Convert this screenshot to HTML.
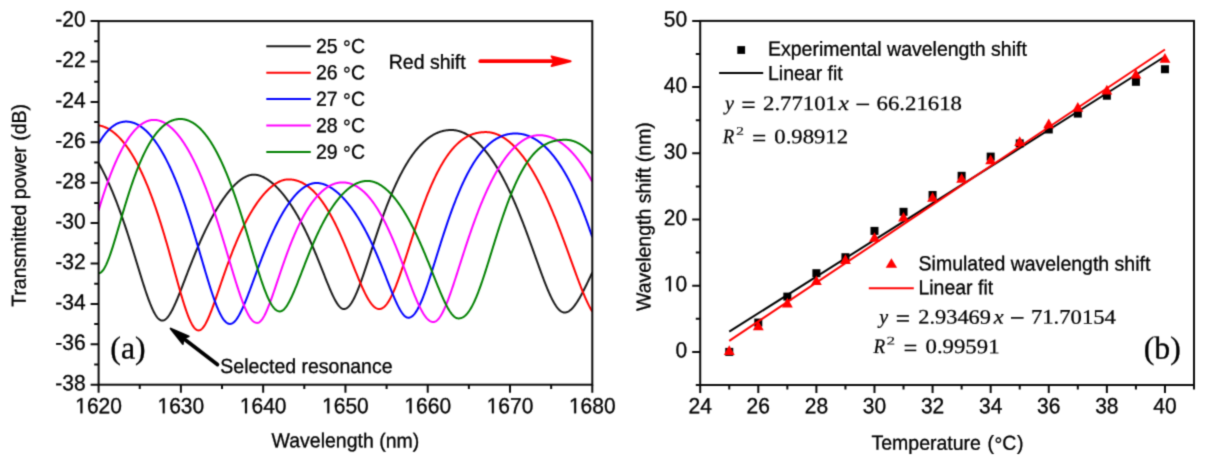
<!DOCTYPE html>
<html><head><meta charset="utf-8"><style>
html,body{margin:0;padding:0;background:#fff;}
body{width:1207px;height:462px;overflow:hidden;font-family:"Liberation Sans",sans-serif;}
svg{display:block;}
</style></head><body>
<svg width="1207" height="462" viewBox="0 0 1207 462">
<filter id="soft" filterUnits="userSpaceOnUse" x="0" y="0" width="1207" height="462" color-interpolation-filters="sRGB"><feConvolveMatrix order="5" kernelMatrix="0.00001 0.00042 0.00170 0.00042 0.00001 0.00042 0.02740 0.10988 0.02740 0.00042 0.00170 0.10988 0.44065 0.10988 0.00170 0.00042 0.02740 0.10988 0.02740 0.00042 0.00001 0.00042 0.00170 0.00042 0.00001" edgeMode="duplicate"/></filter>
<g filter="url(#soft)">
<rect width="1207" height="462" fill="#fff"/>
<defs><clipPath id="cl"><rect x="98.6" y="21.1" width="493.7" height="363.6"/></clipPath></defs>
<g clip-path="url(#cl)" fill="none" stroke-width="2" stroke-linejoin="round">
<path d="M98.60 162.85 L99.10 163.75 L99.60 164.66 L100.10 165.58 L100.60 166.52 L101.10 167.46 L101.60 168.41 L102.10 169.38 L102.60 170.35 L103.10 171.34 L103.60 172.34 L104.10 173.34 L104.60 174.36 L105.10 175.39 L105.60 176.43 L106.10 177.48 L106.60 178.55 L107.10 179.62 L107.60 180.71 L108.10 181.80 L108.60 182.91 L109.10 184.03 L109.60 185.16 L110.10 186.30 L110.60 187.45 L111.10 188.62 L111.60 189.80 L112.10 190.98 L112.60 192.18 L113.10 193.39 L113.60 194.62 L114.10 195.85 L114.60 197.10 L115.10 198.35 L115.60 199.62 L116.10 200.90 L116.60 202.20 L117.10 203.50 L117.60 204.82 L118.10 206.14 L118.60 207.48 L119.10 208.83 L119.60 210.19 L120.10 211.57 L120.60 212.95 L121.10 214.35 L121.60 215.75 L122.10 217.17 L122.60 218.60 L123.10 220.04 L123.60 221.49 L124.10 222.95 L124.60 224.42 L125.10 225.90 L125.60 227.39 L126.10 228.90 L126.60 230.41 L127.10 231.93 L127.60 233.46 L128.10 235.00 L128.60 236.55 L129.10 238.10 L129.60 239.67 L130.10 241.24 L130.60 242.82 L131.10 244.41 L131.60 246.01 L132.10 247.61 L132.60 249.21 L133.10 250.83 L133.60 252.44 L134.10 254.07 L134.60 255.69 L135.10 257.32 L135.60 258.96 L136.10 260.59 L136.60 262.23 L137.10 263.87 L137.60 265.50 L138.10 267.14 L138.60 268.77 L139.10 270.41 L139.60 272.04 L140.10 273.66 L140.60 275.28 L141.10 276.90 L141.60 278.50 L142.10 280.10 L142.60 281.69 L143.10 283.27 L143.60 284.84 L144.10 286.39 L144.60 287.93 L145.10 289.45 L145.60 290.96 L146.10 292.45 L146.60 293.91 L147.10 295.36 L147.60 296.78 L148.10 298.18 L148.60 299.55 L149.10 300.89 L149.60 302.21 L150.10 303.49 L150.60 304.74 L151.10 305.96 L151.60 307.13 L152.10 308.27 L152.60 309.37 L153.10 310.43 L153.60 311.45 L154.10 312.42 L154.60 313.34 L155.10 314.22 L155.60 315.04 L156.10 315.81 L156.60 316.54 L157.10 317.20 L157.60 317.81 L158.10 318.36 L158.60 318.86 L159.10 319.29 L159.60 319.67 L160.10 319.98 L160.60 320.23 L161.10 320.41 L161.60 320.54 L162.10 320.59 L162.60 320.59 L163.10 320.52 L163.60 320.39 L164.10 320.20 L164.60 319.94 L165.10 319.64 L165.60 319.27 L166.10 318.85 L166.60 318.38 L167.10 317.85 L167.60 317.28 L168.10 316.66 L168.60 315.99 L169.10 315.27 L169.60 314.52 L170.10 313.72 L170.60 312.89 L171.10 312.02 L171.60 311.11 L172.10 310.17 L172.60 309.20 L173.10 308.20 L173.60 307.17 L174.10 306.11 L174.60 305.03 L175.10 303.93 L175.60 302.80 L176.10 301.65 L176.60 300.49 L177.10 299.31 L177.60 298.11 L178.10 296.89 L178.60 295.67 L179.10 294.43 L179.60 293.18 L180.10 291.92 L180.60 290.66 L181.10 289.38 L181.60 288.10 L182.10 286.81 L182.60 285.52 L183.10 284.22 L183.60 282.93 L184.10 281.62 L184.60 280.32 L185.10 279.02 L185.60 277.72 L186.10 276.41 L186.60 275.11 L187.10 273.81 L187.60 272.51 L188.10 271.22 L188.60 269.93 L189.10 268.64 L189.60 267.35 L190.10 266.07 L190.60 264.80 L191.10 263.53 L191.60 262.27 L192.10 261.01 L192.60 259.75 L193.10 258.51 L193.60 257.27 L194.10 256.04 L194.60 254.81 L195.10 253.59 L195.60 252.38 L196.10 251.18 L196.60 249.98 L197.10 248.80 L197.60 247.62 L198.10 246.45 L198.60 245.28 L199.10 244.13 L199.60 242.98 L200.10 241.84 L200.60 240.71 L201.10 239.59 L201.60 238.48 L202.10 237.38 L202.60 236.28 L203.10 235.20 L203.60 234.12 L204.10 233.05 L204.60 231.99 L205.10 230.94 L205.60 229.90 L206.10 228.87 L206.60 227.85 L207.10 226.84 L207.60 225.83 L208.10 224.83 L208.60 223.85 L209.10 222.87 L209.60 221.90 L210.10 220.94 L210.60 219.99 L211.10 219.05 L211.60 218.12 L212.10 217.19 L212.60 216.28 L213.10 215.37 L213.60 214.48 L214.10 213.59 L214.60 212.71 L215.10 211.84 L215.60 210.98 L216.10 210.13 L216.60 209.29 L217.10 208.45 L217.60 207.63 L218.10 206.81 L218.60 206.01 L219.10 205.21 L219.60 204.42 L220.10 203.64 L220.60 202.87 L221.10 202.11 L221.60 201.36 L222.10 200.62 L222.60 199.88 L223.10 199.16 L223.60 198.44 L224.10 197.73 L224.60 197.04 L225.10 196.35 L225.60 195.67 L226.10 195.00 L226.60 194.34 L227.10 193.69 L227.60 193.05 L228.10 192.41 L228.60 191.79 L229.10 191.18 L229.60 190.57 L230.10 189.98 L230.60 189.39 L231.10 188.82 L231.60 188.25 L232.10 187.70 L232.60 187.15 L233.10 186.62 L233.60 186.09 L234.10 185.58 L234.60 185.07 L235.10 184.58 L235.60 184.10 L236.10 183.62 L236.60 183.16 L237.10 182.71 L237.60 182.27 L238.10 181.84 L238.60 181.42 L239.10 181.01 L239.60 180.61 L240.10 180.23 L240.60 179.85 L241.10 179.49 L241.60 179.14 L242.10 178.80 L242.60 178.48 L243.10 178.16 L243.60 177.86 L244.10 177.57 L244.60 177.30 L245.10 177.03 L245.60 176.78 L246.10 176.54 L246.60 176.32 L247.10 176.11 L247.60 175.91 L248.10 175.73 L248.60 175.56 L249.10 175.41 L249.60 175.27 L250.10 175.14 L250.60 175.03 L251.10 174.94 L251.60 174.86 L252.10 174.80 L252.60 174.75 L253.10 174.72 L253.60 174.70 L254.10 174.70 L254.60 174.72 L255.10 174.75 L255.60 174.79 L256.10 174.85 L256.60 174.92 L257.10 175.01 L257.60 175.10 L258.10 175.21 L258.60 175.34 L259.10 175.47 L259.60 175.62 L260.10 175.78 L260.60 175.96 L261.10 176.14 L261.60 176.34 L262.10 176.55 L262.60 176.77 L263.10 177.00 L263.60 177.24 L264.10 177.49 L264.60 177.76 L265.10 178.03 L265.60 178.32 L266.10 178.61 L266.60 178.92 L267.10 179.23 L267.60 179.56 L268.10 179.90 L268.60 180.24 L269.10 180.60 L269.60 180.97 L270.10 181.34 L270.60 181.73 L271.10 182.13 L271.60 182.53 L272.10 182.95 L272.60 183.37 L273.10 183.80 L273.60 184.24 L274.10 184.70 L274.60 185.16 L275.10 185.63 L275.60 186.10 L276.10 186.59 L276.60 187.09 L277.10 187.59 L277.60 188.11 L278.10 188.63 L278.60 189.16 L279.10 189.70 L279.60 190.25 L280.10 190.81 L280.60 191.38 L281.10 191.95 L281.60 192.54 L282.10 193.13 L282.60 193.73 L283.10 194.34 L283.60 194.96 L284.10 195.59 L284.60 196.22 L285.10 196.87 L285.60 197.52 L286.10 198.18 L286.60 198.86 L287.10 199.54 L287.60 200.22 L288.10 200.92 L288.60 201.63 L289.10 202.34 L289.60 203.07 L290.10 203.80 L290.60 204.54 L291.10 205.29 L291.60 206.05 L292.10 206.82 L292.60 207.59 L293.10 208.38 L293.60 209.18 L294.10 209.98 L294.60 210.79 L295.10 211.62 L295.60 212.45 L296.10 213.29 L296.60 214.14 L297.10 215.00 L297.60 215.87 L298.10 216.75 L298.60 217.64 L299.10 218.54 L299.60 219.44 L300.10 220.36 L300.60 221.29 L301.10 222.22 L301.60 223.17 L302.10 224.12 L302.60 225.09 L303.10 226.06 L303.60 227.05 L304.10 228.04 L304.60 229.04 L305.10 230.06 L305.60 231.08 L306.10 232.11 L306.60 233.16 L307.10 234.21 L307.60 235.27 L308.10 236.34 L308.60 237.42 L309.10 238.51 L309.60 239.61 L310.10 240.72 L310.60 241.84 L311.10 242.97 L311.60 244.10 L312.10 245.25 L312.60 246.40 L313.10 247.56 L313.60 248.74 L314.10 249.91 L314.60 251.10 L315.10 252.30 L315.60 253.50 L316.10 254.71 L316.60 255.93 L317.10 257.15 L317.60 258.38 L318.10 259.62 L318.60 260.86 L319.10 262.10 L319.60 263.35 L320.10 264.61 L320.60 265.87 L321.10 267.13 L321.60 268.40 L322.10 269.66 L322.60 270.93 L323.10 272.20 L323.60 273.47 L324.10 274.73 L324.60 276.00 L325.10 277.26 L325.60 278.52 L326.10 279.77 L326.60 281.02 L327.10 282.26 L327.60 283.50 L328.10 284.72 L328.60 285.93 L329.10 287.13 L329.60 288.32 L330.10 289.50 L330.60 290.65 L331.10 291.79 L331.60 292.91 L332.10 294.01 L332.60 295.08 L333.10 296.13 L333.60 297.16 L334.10 298.15 L334.60 299.12 L335.10 300.05 L335.60 300.95 L336.10 301.81 L336.60 302.64 L337.10 303.42 L337.60 304.16 L338.10 304.86 L338.60 305.51 L339.10 306.11 L339.60 306.66 L340.10 307.15 L340.60 307.60 L341.10 307.98 L341.60 308.31 L342.10 308.57 L342.60 308.78 L343.10 308.91 L343.60 308.99 L344.10 309.00 L344.60 308.95 L345.10 308.84 L345.60 308.68 L346.10 308.47 L346.60 308.20 L347.10 307.88 L347.60 307.50 L348.10 307.08 L348.60 306.60 L349.10 306.07 L349.60 305.49 L350.10 304.86 L350.60 304.19 L351.10 303.46 L351.60 302.70 L352.10 301.89 L352.60 301.03 L353.10 300.13 L353.60 299.20 L354.10 298.22 L354.60 297.21 L355.10 296.16 L355.60 295.07 L356.10 293.95 L356.60 292.80 L357.10 291.62 L357.60 290.41 L358.10 289.17 L358.60 287.91 L359.10 286.62 L359.60 285.30 L360.10 283.97 L360.60 282.61 L361.10 281.23 L361.60 279.84 L362.10 278.42 L362.60 277.00 L363.10 275.55 L363.60 274.10 L364.10 272.63 L364.60 271.15 L365.10 269.65 L365.60 268.15 L366.10 266.65 L366.60 265.13 L367.10 263.61 L367.60 262.08 L368.10 260.55 L368.60 259.02 L369.10 257.48 L369.60 255.94 L370.10 254.40 L370.60 252.86 L371.10 251.32 L371.60 249.78 L372.10 248.25 L372.60 246.71 L373.10 245.18 L373.60 243.65 L374.10 242.13 L374.60 240.61 L375.10 239.09 L375.60 237.58 L376.10 236.08 L376.60 234.58 L377.10 233.09 L377.60 231.61 L378.10 230.13 L378.60 228.66 L379.10 227.20 L379.60 225.75 L380.10 224.31 L380.60 222.87 L381.10 221.45 L381.60 220.03 L382.10 218.63 L382.60 217.23 L383.10 215.85 L383.60 214.47 L384.10 213.11 L384.60 211.75 L385.10 210.41 L385.60 209.08 L386.10 207.76 L386.60 206.45 L387.10 205.15 L387.60 203.86 L388.10 202.58 L388.60 201.32 L389.10 200.07 L389.60 198.83 L390.10 197.60 L390.60 196.38 L391.10 195.17 L391.60 193.98 L392.10 192.80 L392.60 191.63 L393.10 190.47 L393.60 189.33 L394.10 188.20 L394.60 187.08 L395.10 185.97 L395.60 184.87 L396.10 183.79 L396.60 182.71 L397.10 181.65 L397.60 180.61 L398.10 179.57 L398.60 178.55 L399.10 177.54 L399.60 176.54 L400.10 175.55 L400.60 174.57 L401.10 173.61 L401.60 172.66 L402.10 171.72 L402.60 170.79 L403.10 169.88 L403.60 168.97 L404.10 168.08 L404.60 167.20 L405.10 166.33 L405.60 165.48 L406.10 164.63 L406.60 163.80 L407.10 162.98 L407.60 162.17 L408.10 161.37 L408.60 160.58 L409.10 159.81 L409.60 159.04 L410.10 158.29 L410.60 157.55 L411.10 156.82 L411.60 156.10 L412.10 155.39 L412.60 154.69 L413.10 154.00 L413.60 153.33 L414.10 152.66 L414.60 152.01 L415.10 151.37 L415.60 150.74 L416.10 150.12 L416.60 149.50 L417.10 148.90 L417.60 148.31 L418.10 147.74 L418.60 147.17 L419.10 146.61 L419.60 146.06 L420.10 145.52 L420.60 145.00 L421.10 144.48 L421.60 143.97 L422.10 143.47 L422.60 142.99 L423.10 142.51 L423.60 142.04 L424.10 141.59 L424.60 141.14 L425.10 140.70 L425.60 140.27 L426.10 139.85 L426.60 139.44 L427.10 139.04 L427.60 138.65 L428.10 138.27 L428.60 137.90 L429.10 137.54 L429.60 137.19 L430.10 136.84 L430.60 136.51 L431.10 136.18 L431.60 135.86 L432.10 135.56 L432.60 135.26 L433.10 134.97 L433.60 134.69 L434.10 134.42 L434.60 134.15 L435.10 133.90 L435.60 133.65 L436.10 133.41 L436.60 133.18 L437.10 132.96 L437.60 132.75 L438.10 132.55 L438.60 132.35 L439.10 132.16 L439.60 131.98 L440.10 131.81 L440.60 131.65 L441.10 131.49 L441.60 131.35 L442.10 131.21 L442.60 131.08 L443.10 130.95 L443.60 130.84 L444.10 130.73 L444.60 130.63 L445.10 130.53 L445.60 130.45 L446.10 130.37 L446.60 130.30 L447.10 130.24 L447.60 130.18 L448.10 130.14 L448.60 130.10 L449.10 130.06 L449.60 130.04 L450.10 130.02 L450.60 130.01 L451.10 130.00 L451.60 130.00 L452.10 130.01 L452.60 130.04 L453.10 130.07 L453.60 130.11 L454.10 130.15 L454.60 130.21 L455.10 130.28 L455.60 130.35 L456.10 130.44 L456.60 130.53 L457.10 130.63 L457.60 130.75 L458.10 130.87 L458.60 130.99 L459.10 131.13 L459.60 131.28 L460.10 131.44 L460.60 131.60 L461.10 131.78 L461.60 131.96 L462.10 132.15 L462.60 132.35 L463.10 132.56 L463.60 132.78 L464.10 133.01 L464.60 133.24 L465.10 133.49 L465.60 133.74 L466.10 134.00 L466.60 134.27 L467.10 134.55 L467.60 134.84 L468.10 135.14 L468.60 135.45 L469.10 135.76 L469.60 136.09 L470.10 136.42 L470.60 136.76 L471.10 137.11 L471.60 137.47 L472.10 137.84 L472.60 138.22 L473.10 138.60 L473.60 139.00 L474.10 139.40 L474.60 139.81 L475.10 140.24 L475.60 140.67 L476.10 141.10 L476.60 141.55 L477.10 142.01 L477.60 142.48 L478.10 142.95 L478.60 143.43 L479.10 143.93 L479.60 144.43 L480.10 144.94 L480.60 145.46 L481.10 145.98 L481.60 146.52 L482.10 147.07 L482.60 147.62 L483.10 148.19 L483.60 148.76 L484.10 149.34 L484.60 149.93 L485.10 150.53 L485.60 151.14 L486.10 151.76 L486.60 152.39 L487.10 153.02 L487.60 153.67 L488.10 154.32 L488.60 154.99 L489.10 155.66 L489.60 156.34 L490.10 157.03 L490.60 157.73 L491.10 158.44 L491.60 159.16 L492.10 159.89 L492.60 160.63 L493.10 161.37 L493.60 162.13 L494.10 162.89 L494.60 163.67 L495.10 164.45 L495.60 165.24 L496.10 166.05 L496.60 166.86 L497.10 167.68 L497.60 168.51 L498.10 169.35 L498.60 170.20 L499.10 171.06 L499.60 171.93 L500.10 172.80 L500.60 173.69 L501.10 174.59 L501.60 175.49 L502.10 176.41 L502.60 177.33 L503.10 178.27 L503.60 179.21 L504.10 180.16 L504.60 181.13 L505.10 182.10 L505.60 183.08 L506.10 184.07 L506.60 185.07 L507.10 186.08 L507.60 187.10 L508.10 188.13 L508.60 189.17 L509.10 190.21 L509.60 191.27 L510.10 192.34 L510.60 193.41 L511.10 194.50 L511.60 195.59 L512.10 196.70 L512.60 197.81 L513.10 198.93 L513.60 200.06 L514.10 201.20 L514.60 202.35 L515.10 203.51 L515.60 204.68 L516.10 205.85 L516.60 207.04 L517.10 208.23 L517.60 209.43 L518.10 210.64 L518.60 211.86 L519.10 213.09 L519.60 214.33 L520.10 215.57 L520.60 216.82 L521.10 218.09 L521.60 219.35 L522.10 220.63 L522.60 221.91 L523.10 223.21 L523.60 224.50 L524.10 225.81 L524.60 227.12 L525.10 228.44 L525.60 229.77 L526.10 231.10 L526.60 232.44 L527.10 233.79 L527.60 235.14 L528.10 236.49 L528.60 237.85 L529.10 239.22 L529.60 240.59 L530.10 241.97 L530.60 243.35 L531.10 244.73 L531.60 246.12 L532.10 247.51 L532.60 248.90 L533.10 250.29 L533.60 251.69 L534.10 253.09 L534.60 254.49 L535.10 255.89 L535.60 257.29 L536.10 258.69 L536.60 260.08 L537.10 261.48 L537.60 262.88 L538.10 264.27 L538.60 265.66 L539.10 267.04 L539.60 268.42 L540.10 269.80 L540.60 271.17 L541.10 272.53 L541.60 273.89 L542.10 275.24 L542.60 276.58 L543.10 277.91 L543.60 279.23 L544.10 280.54 L544.60 281.83 L545.10 283.11 L545.60 284.38 L546.10 285.64 L546.60 286.88 L547.10 288.10 L547.60 289.30 L548.10 290.49 L548.60 291.66 L549.10 292.80 L549.60 293.92 L550.10 295.02 L550.60 296.10 L551.10 297.15 L551.60 298.18 L552.10 299.18 L552.60 300.15 L553.10 301.09 L553.60 302.00 L554.10 302.88 L554.60 303.73 L555.10 304.54 L555.60 305.32 L556.10 306.07 L556.60 306.78 L557.10 307.45 L557.60 308.08 L558.10 308.67 L558.60 309.23 L559.10 309.74 L559.60 310.21 L560.10 310.64 L560.60 311.03 L561.10 311.37 L561.60 311.67 L562.10 311.92 L562.60 312.13 L563.10 312.29 L563.60 312.41 L564.10 312.48 L564.60 312.50 L565.10 312.48 L565.60 312.43 L566.10 312.33 L566.60 312.20 L567.10 312.04 L567.60 311.83 L568.10 311.60 L568.60 311.32 L569.10 311.02 L569.60 310.68 L570.10 310.30 L570.60 309.90 L571.10 309.46 L571.60 308.99 L572.10 308.49 L572.60 307.96 L573.10 307.40 L573.60 306.81 L574.10 306.20 L574.60 305.56 L575.10 304.89 L575.60 304.20 L576.10 303.49 L576.60 302.75 L577.10 301.99 L577.60 301.21 L578.10 300.40 L578.60 299.58 L579.10 298.74 L579.60 297.88 L580.10 297.01 L580.60 296.12 L581.10 295.21 L581.60 294.29 L582.10 293.35 L582.60 292.40 L583.10 291.44 L583.60 290.47 L584.10 289.49 L584.60 288.50 L585.10 287.50 L585.60 286.49 L586.10 285.47 L586.60 284.45 L587.10 283.42 L587.60 282.38 L588.10 281.34 L588.60 280.29 L589.10 279.24 L589.60 278.19 L590.10 277.13 L590.60 276.08 L591.10 275.02 L591.60 273.95 L592.10 272.89 L592.30 272.47" stroke="#1a1a1a"/>
<path d="M98.60 125.30 L99.10 125.39 L99.60 125.50 L100.10 125.61 L100.60 125.73 L101.10 125.86 L101.60 126.00 L102.10 126.15 L102.60 126.31 L103.10 126.48 L103.60 126.66 L104.10 126.85 L104.60 127.06 L105.10 127.27 L105.60 127.49 L106.10 127.72 L106.60 127.96 L107.10 128.21 L107.60 128.47 L108.10 128.74 L108.60 129.02 L109.10 129.32 L109.60 129.62 L110.10 129.93 L110.60 130.26 L111.10 130.59 L111.60 130.93 L112.10 131.29 L112.60 131.65 L113.10 132.03 L113.60 132.42 L114.10 132.81 L114.60 133.22 L115.10 133.64 L115.60 134.07 L116.10 134.51 L116.60 134.96 L117.10 135.42 L117.60 135.90 L118.10 136.38 L118.60 136.87 L119.10 137.38 L119.60 137.90 L120.10 138.43 L120.60 138.97 L121.10 139.52 L121.60 140.08 L122.10 140.65 L122.60 141.24 L123.10 141.83 L123.60 142.44 L124.10 143.06 L124.60 143.69 L125.10 144.34 L125.60 144.99 L126.10 145.66 L126.60 146.34 L127.10 147.03 L127.60 147.73 L128.10 148.44 L128.60 149.17 L129.10 149.91 L129.60 150.66 L130.10 151.42 L130.60 152.19 L131.10 152.98 L131.60 153.78 L132.10 154.59 L132.60 155.41 L133.10 156.25 L133.60 157.10 L134.10 157.96 L134.60 158.84 L135.10 159.72 L135.60 160.62 L136.10 161.54 L136.60 162.46 L137.10 163.40 L137.60 164.35 L138.10 165.32 L138.60 166.30 L139.10 167.29 L139.60 168.29 L140.10 169.31 L140.60 170.34 L141.10 171.39 L141.60 172.45 L142.10 173.52 L142.60 174.60 L143.10 175.70 L143.60 176.81 L144.10 177.94 L144.60 179.08 L145.10 180.23 L145.60 181.40 L146.10 182.58 L146.60 183.78 L147.10 184.99 L147.60 186.21 L148.10 187.45 L148.60 188.70 L149.10 189.96 L149.60 191.24 L150.10 192.53 L150.60 193.84 L151.10 195.16 L151.60 196.50 L152.10 197.85 L152.60 199.21 L153.10 200.59 L153.60 201.98 L154.10 203.38 L154.60 204.80 L155.10 206.24 L155.60 207.68 L156.10 209.15 L156.60 210.62 L157.10 212.11 L157.60 213.61 L158.10 215.13 L158.60 216.66 L159.10 218.20 L159.60 219.76 L160.10 221.33 L160.60 222.91 L161.10 224.50 L161.60 226.11 L162.10 227.73 L162.60 229.36 L163.10 231.01 L163.60 232.67 L164.10 234.33 L164.60 236.01 L165.10 237.70 L165.60 239.41 L166.10 241.12 L166.60 242.84 L167.10 244.57 L167.60 246.31 L168.10 248.06 L168.60 249.82 L169.10 251.59 L169.60 253.36 L170.10 255.14 L170.60 256.93 L171.10 258.72 L171.60 260.52 L172.10 262.32 L172.60 264.12 L173.10 265.93 L173.60 267.74 L174.10 269.55 L174.60 271.36 L175.10 273.17 L175.60 274.98 L176.10 276.79 L176.60 278.59 L177.10 280.39 L177.60 282.18 L178.10 283.97 L178.60 285.75 L179.10 287.51 L179.60 289.27 L180.10 291.01 L180.60 292.74 L181.10 294.45 L181.60 296.15 L182.10 297.83 L182.60 299.48 L183.10 301.12 L183.60 302.73 L184.10 304.31 L184.60 305.87 L185.10 307.39 L185.60 308.89 L186.10 310.35 L186.60 311.77 L187.10 313.16 L187.60 314.51 L188.10 315.82 L188.60 317.08 L189.10 318.30 L189.60 319.47 L190.10 320.59 L190.60 321.66 L191.10 322.67 L191.60 323.63 L192.10 324.53 L192.60 325.38 L193.10 326.16 L193.60 326.88 L194.10 327.54 L194.60 328.13 L195.10 328.66 L195.60 329.12 L196.10 329.51 L196.60 329.83 L197.10 330.08 L197.60 330.26 L198.10 330.36 L198.60 330.40 L199.10 330.36 L199.60 330.25 L200.10 330.06 L200.60 329.80 L201.10 329.47 L201.60 329.08 L202.10 328.61 L202.60 328.08 L203.10 327.49 L203.60 326.84 L204.10 326.13 L204.60 325.36 L205.10 324.54 L205.60 323.67 L206.10 322.75 L206.60 321.79 L207.10 320.78 L207.60 319.73 L208.10 318.64 L208.60 317.51 L209.10 316.35 L209.60 315.15 L210.10 313.93 L210.60 312.68 L211.10 311.40 L211.60 310.10 L212.10 308.77 L212.60 307.43 L213.10 306.07 L213.60 304.69 L214.10 303.29 L214.60 301.89 L215.10 300.47 L215.60 299.04 L216.10 297.60 L216.60 296.15 L217.10 294.70 L217.60 293.25 L218.10 291.79 L218.60 290.32 L219.10 288.86 L219.60 287.39 L220.10 285.93 L220.60 284.46 L221.10 283.00 L221.60 281.54 L222.10 280.09 L222.60 278.64 L223.10 277.19 L223.60 275.75 L224.10 274.31 L224.60 272.89 L225.10 271.46 L225.60 270.05 L226.10 268.65 L226.60 267.25 L227.10 265.86 L227.60 264.48 L228.10 263.11 L228.60 261.75 L229.10 260.40 L229.60 259.06 L230.10 257.73 L230.60 256.41 L231.10 255.10 L231.60 253.80 L232.10 252.51 L232.60 251.24 L233.10 249.97 L233.60 248.72 L234.10 247.48 L234.60 246.25 L235.10 245.03 L235.60 243.82 L236.10 242.63 L236.60 241.45 L237.10 240.27 L237.60 239.11 L238.10 237.97 L238.60 236.83 L239.10 235.71 L239.60 234.59 L240.10 233.49 L240.60 232.41 L241.10 231.33 L241.60 230.26 L242.10 229.21 L242.60 228.17 L243.10 227.14 L243.60 226.12 L244.10 225.12 L244.60 224.12 L245.10 223.14 L245.60 222.17 L246.10 221.21 L246.60 220.26 L247.10 219.32 L247.60 218.40 L248.10 217.48 L248.60 216.58 L249.10 215.69 L249.60 214.80 L250.10 213.93 L250.60 213.08 L251.10 212.23 L251.60 211.39 L252.10 210.57 L252.60 209.75 L253.10 208.95 L253.60 208.15 L254.10 207.37 L254.60 206.60 L255.10 205.84 L255.60 205.09 L256.10 204.35 L256.60 203.62 L257.10 202.90 L257.60 202.20 L258.10 201.50 L258.60 200.81 L259.10 200.14 L259.60 199.47 L260.10 198.82 L260.60 198.17 L261.10 197.54 L261.60 196.91 L262.10 196.30 L262.60 195.70 L263.10 195.11 L263.60 194.52 L264.10 193.95 L264.60 193.39 L265.10 192.84 L265.60 192.30 L266.10 191.77 L266.60 191.25 L267.10 190.74 L267.60 190.24 L268.10 189.75 L268.60 189.28 L269.10 188.81 L269.60 188.35 L270.10 187.91 L270.60 187.47 L271.10 187.04 L271.60 186.63 L272.10 186.23 L272.60 185.83 L273.10 185.45 L273.60 185.08 L274.10 184.72 L274.60 184.37 L275.10 184.03 L275.60 183.71 L276.10 183.39 L276.60 183.09 L277.10 182.79 L277.60 182.51 L278.10 182.24 L278.60 181.98 L279.10 181.74 L279.60 181.50 L280.10 181.28 L280.60 181.07 L281.10 180.87 L281.60 180.68 L282.10 180.50 L282.60 180.34 L283.10 180.19 L283.60 180.05 L284.10 179.93 L284.60 179.82 L285.10 179.72 L285.60 179.63 L286.10 179.56 L286.60 179.50 L287.10 179.45 L287.60 179.42 L288.10 179.40 L288.60 179.40 L289.10 179.41 L289.60 179.42 L290.10 179.44 L290.60 179.48 L291.10 179.52 L291.60 179.56 L292.10 179.62 L292.60 179.69 L293.10 179.76 L293.60 179.85 L294.10 179.94 L294.60 180.05 L295.10 180.16 L295.60 180.28 L296.10 180.41 L296.60 180.55 L297.10 180.70 L297.60 180.86 L298.10 181.03 L298.60 181.20 L299.10 181.39 L299.60 181.59 L300.10 181.80 L300.60 182.01 L301.10 182.24 L301.60 182.48 L302.10 182.72 L302.60 182.98 L303.10 183.25 L303.60 183.52 L304.10 183.81 L304.60 184.11 L305.10 184.42 L305.60 184.74 L306.10 185.07 L306.60 185.41 L307.10 185.76 L307.60 186.12 L308.10 186.49 L308.60 186.87 L309.10 187.27 L309.60 187.67 L310.10 188.08 L310.60 188.51 L311.10 188.95 L311.60 189.40 L312.10 189.86 L312.60 190.33 L313.10 190.81 L313.60 191.30 L314.10 191.80 L314.60 192.32 L315.10 192.85 L315.60 193.39 L316.10 193.94 L316.60 194.50 L317.10 195.07 L317.60 195.65 L318.10 196.25 L318.60 196.86 L319.10 197.48 L319.60 198.11 L320.10 198.75 L320.60 199.41 L321.10 200.07 L321.60 200.75 L322.10 201.44 L322.60 202.15 L323.10 202.86 L323.60 203.59 L324.10 204.32 L324.60 205.07 L325.10 205.83 L325.60 206.61 L326.10 207.39 L326.60 208.19 L327.10 209.00 L327.60 209.82 L328.10 210.65 L328.60 211.50 L329.10 212.36 L329.60 213.23 L330.10 214.11 L330.60 215.00 L331.10 215.90 L331.60 216.82 L332.10 217.75 L332.60 218.68 L333.10 219.63 L333.60 220.60 L334.10 221.57 L334.60 222.55 L335.10 223.55 L335.60 224.56 L336.10 225.57 L336.60 226.60 L337.10 227.64 L337.60 228.69 L338.10 229.75 L338.60 230.82 L339.10 231.90 L339.60 232.99 L340.10 234.09 L340.60 235.20 L341.10 236.32 L341.60 237.45 L342.10 238.59 L342.60 239.74 L343.10 240.89 L343.60 242.06 L344.10 243.23 L344.60 244.41 L345.10 245.59 L345.60 246.79 L346.10 247.99 L346.60 249.20 L347.10 250.41 L347.60 251.63 L348.10 252.85 L348.60 254.08 L349.10 255.31 L349.60 256.55 L350.10 257.79 L350.60 259.04 L351.10 260.28 L351.60 261.53 L352.10 262.78 L352.60 264.03 L353.10 265.28 L353.60 266.53 L354.10 267.78 L354.60 269.02 L355.10 270.27 L355.60 271.51 L356.10 272.75 L356.60 273.98 L357.10 275.21 L357.60 276.43 L358.10 277.64 L358.60 278.84 L359.10 280.04 L359.60 281.23 L360.10 282.40 L360.60 283.57 L361.10 284.72 L361.60 285.85 L362.10 286.98 L362.60 288.08 L363.10 289.17 L363.60 290.25 L364.10 291.30 L364.60 292.33 L365.10 293.35 L365.60 294.34 L366.10 295.30 L366.60 296.25 L367.10 297.16 L367.60 298.05 L368.10 298.92 L368.60 299.75 L369.10 300.56 L369.60 301.33 L370.10 302.07 L370.60 302.78 L371.10 303.46 L371.60 304.10 L372.10 304.70 L372.60 305.27 L373.10 305.80 L373.60 306.30 L374.10 306.75 L374.60 307.16 L375.10 307.54 L375.60 307.87 L376.10 308.16 L376.60 308.41 L377.10 308.61 L377.60 308.77 L378.10 308.89 L378.60 308.97 L379.10 309.00 L379.60 308.99 L380.10 308.93 L380.60 308.83 L381.10 308.69 L381.60 308.51 L382.10 308.28 L382.60 308.00 L383.10 307.69 L383.60 307.33 L384.10 306.92 L384.60 306.47 L385.10 305.98 L385.60 305.45 L386.10 304.88 L386.60 304.26 L387.10 303.60 L387.60 302.90 L388.10 302.16 L388.60 301.38 L389.10 300.56 L389.60 299.70 L390.10 298.81 L390.60 297.88 L391.10 296.91 L391.60 295.91 L392.10 294.88 L392.60 293.81 L393.10 292.71 L393.60 291.58 L394.10 290.43 L394.60 289.24 L395.10 288.02 L395.60 286.78 L396.10 285.52 L396.60 284.23 L397.10 282.92 L397.60 281.58 L398.10 280.23 L398.60 278.85 L399.10 277.46 L399.60 276.05 L400.10 274.62 L400.60 273.18 L401.10 271.73 L401.60 270.26 L402.10 268.77 L402.60 267.28 L403.10 265.78 L403.60 264.27 L404.10 262.75 L404.60 261.22 L405.10 259.69 L405.60 258.15 L406.10 256.60 L406.60 255.06 L407.10 253.51 L407.60 251.95 L408.10 250.40 L408.60 248.84 L409.10 247.29 L409.60 245.73 L410.10 244.18 L410.60 242.63 L411.10 241.08 L411.60 239.53 L412.10 237.99 L412.60 236.45 L413.10 234.92 L413.60 233.39 L414.10 231.87 L414.60 230.35 L415.10 228.84 L415.60 227.34 L416.10 225.84 L416.60 224.35 L417.10 222.88 L417.60 221.40 L418.10 219.94 L418.60 218.49 L419.10 217.05 L419.60 215.61 L420.10 214.19 L420.60 212.78 L421.10 211.38 L421.60 209.99 L422.10 208.61 L422.60 207.24 L423.10 205.88 L423.60 204.53 L424.10 203.20 L424.60 201.88 L425.10 200.57 L425.60 199.27 L426.10 197.99 L426.60 196.72 L427.10 195.46 L427.60 194.21 L428.10 192.98 L428.60 191.76 L429.10 190.55 L429.60 189.35 L430.10 188.17 L430.60 187.01 L431.10 185.85 L431.60 184.71 L432.10 183.58 L432.60 182.47 L433.10 181.37 L433.60 180.28 L434.10 179.21 L434.60 178.15 L435.10 177.10 L435.60 176.07 L436.10 175.05 L436.60 174.04 L437.10 173.05 L437.60 172.07 L438.10 171.11 L438.60 170.16 L439.10 169.22 L439.60 168.30 L440.10 167.39 L440.60 166.49 L441.10 165.61 L441.60 164.74 L442.10 163.88 L442.60 163.04 L443.10 162.20 L443.60 161.39 L444.10 160.58 L444.60 159.79 L445.10 159.02 L445.60 158.25 L446.10 157.50 L446.60 156.76 L447.10 156.04 L447.60 155.32 L448.10 154.62 L448.60 153.94 L449.10 153.26 L449.60 152.60 L450.10 151.95 L450.60 151.31 L451.10 150.69 L451.60 150.07 L452.10 149.47 L452.60 148.88 L453.10 148.31 L453.60 147.74 L454.10 147.19 L454.60 146.65 L455.10 146.12 L455.60 145.60 L456.10 145.09 L456.60 144.60 L457.10 144.12 L457.60 143.64 L458.10 143.18 L458.60 142.73 L459.10 142.29 L459.60 141.87 L460.10 141.45 L460.60 141.04 L461.10 140.65 L461.60 140.26 L462.10 139.89 L462.60 139.52 L463.10 139.17 L463.60 138.82 L464.10 138.49 L464.60 138.16 L465.10 137.85 L465.60 137.54 L466.10 137.25 L466.60 136.96 L467.10 136.69 L467.60 136.42 L468.10 136.16 L468.60 135.91 L469.10 135.67 L469.60 135.44 L470.10 135.22 L470.60 135.01 L471.10 134.80 L471.60 134.61 L472.10 134.42 L472.60 134.24 L473.10 134.07 L473.60 133.91 L474.10 133.75 L474.60 133.60 L475.10 133.46 L475.60 133.33 L476.10 133.20 L476.60 133.09 L477.10 132.98 L477.60 132.87 L478.10 132.78 L478.60 132.69 L479.10 132.61 L479.60 132.53 L480.10 132.46 L480.60 132.40 L481.10 132.34 L481.60 132.29 L482.10 132.25 L482.60 132.21 L483.10 132.18 L483.60 132.15 L484.10 132.13 L484.60 132.11 L485.10 132.11 L485.60 132.10 L486.10 132.10 L486.60 132.11 L487.10 132.13 L487.60 132.16 L488.10 132.19 L488.60 132.24 L489.10 132.29 L489.60 132.36 L490.10 132.43 L490.60 132.51 L491.10 132.60 L491.60 132.70 L492.10 132.80 L492.60 132.92 L493.10 133.04 L493.60 133.18 L494.10 133.32 L494.60 133.47 L495.10 133.63 L495.60 133.80 L496.10 133.97 L496.60 134.16 L497.10 134.36 L497.60 134.56 L498.10 134.77 L498.60 134.99 L499.10 135.22 L499.60 135.46 L500.10 135.71 L500.60 135.97 L501.10 136.23 L501.60 136.51 L502.10 136.79 L502.60 137.08 L503.10 137.38 L503.60 137.69 L504.10 138.01 L504.60 138.34 L505.10 138.67 L505.60 139.02 L506.10 139.37 L506.60 139.74 L507.10 140.11 L507.60 140.49 L508.10 140.88 L508.60 141.28 L509.10 141.68 L509.60 142.10 L510.10 142.52 L510.60 142.96 L511.10 143.40 L511.60 143.85 L512.10 144.31 L512.60 144.78 L513.10 145.26 L513.60 145.75 L514.10 146.24 L514.60 146.75 L515.10 147.26 L515.60 147.79 L516.10 148.32 L516.60 148.86 L517.10 149.41 L517.60 149.97 L518.10 150.54 L518.60 151.12 L519.10 151.70 L519.60 152.30 L520.10 152.90 L520.60 153.52 L521.10 154.14 L521.60 154.77 L522.10 155.41 L522.60 156.06 L523.10 156.72 L523.60 157.39 L524.10 158.07 L524.60 158.76 L525.10 159.45 L525.60 160.16 L526.10 160.87 L526.60 161.60 L527.10 162.33 L527.60 163.07 L528.10 163.82 L528.60 164.58 L529.10 165.35 L529.60 166.13 L530.10 166.92 L530.60 167.72 L531.10 168.52 L531.60 169.34 L532.10 170.16 L532.60 171.00 L533.10 171.84 L533.60 172.70 L534.10 173.56 L534.60 174.43 L535.10 175.31 L535.60 176.20 L536.10 177.10 L536.60 178.01 L537.10 178.93 L537.60 179.85 L538.10 180.79 L538.60 181.73 L539.10 182.69 L539.60 183.65 L540.10 184.63 L540.60 185.61 L541.10 186.60 L541.60 187.60 L542.10 188.61 L542.60 189.63 L543.10 190.66 L543.60 191.70 L544.10 192.74 L544.60 193.80 L545.10 194.86 L545.60 195.93 L546.10 197.02 L546.60 198.11 L547.10 199.21 L547.60 200.32 L548.10 201.43 L548.60 202.56 L549.10 203.70 L549.60 204.84 L550.10 205.99 L550.60 207.15 L551.10 208.32 L551.60 209.50 L552.10 210.68 L552.60 211.88 L553.10 213.08 L553.60 214.29 L554.10 215.51 L554.60 216.73 L555.10 217.97 L555.60 219.21 L556.10 220.46 L556.60 221.71 L557.10 222.98 L557.60 224.25 L558.10 225.52 L558.60 226.81 L559.10 228.10 L559.60 229.40 L560.10 230.70 L560.60 232.01 L561.10 233.33 L561.60 234.65 L562.10 235.98 L562.60 237.31 L563.10 238.65 L563.60 239.99 L564.10 241.34 L564.60 242.69 L565.10 244.05 L565.60 245.41 L566.10 246.77 L566.60 248.14 L567.10 249.51 L567.60 250.89 L568.10 252.26 L568.60 253.64 L569.10 255.02 L569.60 256.41 L570.10 257.79 L570.60 259.17 L571.10 260.56 L571.60 261.94 L572.10 263.32 L572.60 264.70 L573.10 266.08 L573.60 267.46 L574.10 268.84 L574.60 270.21 L575.10 271.58 L575.60 272.95 L576.10 274.31 L576.60 275.66 L577.10 277.01 L577.60 278.36 L578.10 279.69 L578.60 281.02 L579.10 282.34 L579.60 283.65 L580.10 284.96 L580.60 286.25 L581.10 287.53 L581.60 288.80 L582.10 290.05 L582.60 291.30 L583.10 292.52 L583.60 293.74 L584.10 294.94 L584.60 296.12 L585.10 297.28 L585.60 298.43 L586.10 299.56 L586.60 300.67 L587.10 301.75 L587.60 302.82 L588.10 303.86 L588.60 304.88 L589.10 305.88 L589.60 306.85 L590.10 307.80 L590.60 308.72 L591.10 309.61 L591.60 310.48 L592.10 311.31 L592.30 311.64" stroke="#ff0000"/>
<path d="M98.60 143.75 L99.10 142.87 L99.60 142.02 L100.10 141.18 L100.60 140.37 L101.10 139.58 L101.60 138.80 L102.10 138.05 L102.60 137.31 L103.10 136.60 L103.60 135.90 L104.10 135.23 L104.60 134.57 L105.10 133.93 L105.60 133.31 L106.10 132.71 L106.60 132.12 L107.10 131.56 L107.60 131.01 L108.10 130.47 L108.60 129.96 L109.10 129.46 L109.60 128.98 L110.10 128.52 L110.60 128.07 L111.10 127.64 L111.60 127.22 L112.10 126.82 L112.60 126.44 L113.10 126.08 L113.60 125.72 L114.10 125.39 L114.60 125.07 L115.10 124.76 L115.60 124.47 L116.10 124.20 L116.60 123.94 L117.10 123.69 L117.60 123.46 L118.10 123.24 L118.60 123.04 L119.10 122.85 L119.60 122.67 L120.10 122.51 L120.60 122.36 L121.10 122.23 L121.60 122.11 L122.10 122.00 L122.60 121.90 L123.10 121.82 L123.60 121.75 L124.10 121.70 L124.60 121.66 L125.10 121.62 L125.60 121.61 L126.10 121.60 L126.60 121.61 L127.10 121.62 L127.60 121.65 L128.10 121.69 L128.60 121.74 L129.10 121.80 L129.60 121.88 L130.10 121.96 L130.60 122.06 L131.10 122.17 L131.60 122.28 L132.10 122.41 L132.60 122.56 L133.10 122.71 L133.60 122.87 L134.10 123.05 L134.60 123.24 L135.10 123.44 L135.60 123.65 L136.10 123.87 L136.60 124.11 L137.10 124.35 L137.60 124.61 L138.10 124.88 L138.60 125.16 L139.10 125.45 L139.60 125.76 L140.10 126.07 L140.60 126.40 L141.10 126.74 L141.60 127.09 L142.10 127.46 L142.60 127.83 L143.10 128.22 L143.60 128.62 L144.10 129.03 L144.60 129.45 L145.10 129.89 L145.60 130.34 L146.10 130.80 L146.60 131.27 L147.10 131.75 L147.60 132.25 L148.10 132.75 L148.60 133.27 L149.10 133.81 L149.60 134.35 L150.10 134.91 L150.60 135.48 L151.10 136.06 L151.60 136.65 L152.10 137.26 L152.60 137.88 L153.10 138.51 L153.60 139.15 L154.10 139.81 L154.60 140.47 L155.10 141.16 L155.60 141.85 L156.10 142.56 L156.60 143.27 L157.10 144.01 L157.60 144.75 L158.10 145.51 L158.60 146.28 L159.10 147.06 L159.60 147.85 L160.10 148.66 L160.60 149.48 L161.10 150.31 L161.60 151.16 L162.10 152.02 L162.60 152.89 L163.10 153.78 L163.60 154.68 L164.10 155.59 L164.60 156.51 L165.10 157.45 L165.60 158.40 L166.10 159.36 L166.60 160.34 L167.10 161.33 L167.60 162.33 L168.10 163.34 L168.60 164.37 L169.10 165.41 L169.60 166.47 L170.10 167.54 L170.60 168.62 L171.10 169.71 L171.60 170.82 L172.10 171.94 L172.60 173.08 L173.10 174.22 L173.60 175.38 L174.10 176.56 L174.60 177.74 L175.10 178.94 L175.60 180.15 L176.10 181.38 L176.60 182.62 L177.10 183.87 L177.60 185.14 L178.10 186.41 L178.60 187.70 L179.10 189.01 L179.60 190.32 L180.10 191.65 L180.60 193.00 L181.10 194.35 L181.60 195.72 L182.10 197.10 L182.60 198.49 L183.10 199.89 L183.60 201.31 L184.10 202.74 L184.60 204.18 L185.10 205.63 L185.60 207.10 L186.10 208.57 L186.60 210.06 L187.10 211.56 L187.60 213.07 L188.10 214.59 L188.60 216.12 L189.10 217.67 L189.60 219.22 L190.10 220.78 L190.60 222.36 L191.10 223.94 L191.60 225.53 L192.10 227.13 L192.60 228.74 L193.10 230.36 L193.60 231.99 L194.10 233.63 L194.60 235.27 L195.10 236.92 L195.60 238.58 L196.10 240.25 L196.60 241.92 L197.10 243.59 L197.60 245.27 L198.10 246.96 L198.60 248.65 L199.10 250.34 L199.60 252.04 L200.10 253.74 L200.60 255.44 L201.10 257.14 L201.60 258.85 L202.10 260.55 L202.60 262.25 L203.10 263.95 L203.60 265.65 L204.10 267.35 L204.60 269.04 L205.10 270.72 L205.60 272.41 L206.10 274.08 L206.60 275.75 L207.10 277.40 L207.60 279.05 L208.10 280.69 L208.60 282.32 L209.10 283.93 L209.60 285.53 L210.10 287.11 L210.60 288.68 L211.10 290.23 L211.60 291.77 L212.10 293.28 L212.60 294.77 L213.10 296.24 L213.60 297.68 L214.10 299.10 L214.60 300.49 L215.10 301.86 L215.60 303.20 L216.10 304.50 L216.60 305.77 L217.10 307.02 L217.60 308.22 L218.10 309.39 L218.60 310.53 L219.10 311.62 L219.60 312.67 L220.10 313.69 L220.60 314.66 L221.10 315.59 L221.60 316.47 L222.10 317.31 L222.60 318.10 L223.10 318.85 L223.60 319.54 L224.10 320.19 L224.60 320.79 L225.10 321.33 L225.60 321.83 L226.10 322.27 L226.60 322.66 L227.10 323.00 L227.60 323.28 L228.10 323.51 L228.60 323.69 L229.10 323.81 L229.60 323.88 L230.10 323.90 L230.60 323.86 L231.10 323.76 L231.60 323.60 L232.10 323.39 L232.60 323.12 L233.10 322.79 L233.60 322.42 L234.10 321.99 L234.60 321.51 L235.10 320.98 L235.60 320.40 L236.10 319.77 L236.60 319.10 L237.10 318.39 L237.60 317.63 L238.10 316.83 L238.60 316.00 L239.10 315.12 L239.60 314.21 L240.10 313.27 L240.60 312.29 L241.10 311.29 L241.60 310.25 L242.10 309.18 L242.60 308.09 L243.10 306.97 L243.60 305.83 L244.10 304.67 L244.60 303.49 L245.10 302.28 L245.60 301.06 L246.10 299.83 L246.60 298.57 L247.10 297.31 L247.60 296.03 L248.10 294.74 L248.60 293.44 L249.10 292.12 L249.60 290.81 L250.10 289.48 L250.60 288.15 L251.10 286.81 L251.60 285.47 L252.10 284.12 L252.60 282.77 L253.10 281.42 L253.60 280.07 L254.10 278.71 L254.60 277.36 L255.10 276.01 L255.60 274.66 L256.10 273.31 L256.60 271.97 L257.10 270.62 L257.60 269.29 L258.10 267.95 L258.60 266.62 L259.10 265.30 L259.60 263.98 L260.10 262.67 L260.60 261.36 L261.10 260.06 L261.60 258.76 L262.10 257.48 L262.60 256.20 L263.10 254.93 L263.60 253.67 L264.10 252.41 L264.60 251.17 L265.10 249.93 L265.60 248.70 L266.10 247.49 L266.60 246.28 L267.10 245.08 L267.60 243.89 L268.10 242.71 L268.60 241.54 L269.10 240.38 L269.60 239.23 L270.10 238.09 L270.60 236.96 L271.10 235.84 L271.60 234.74 L272.10 233.64 L272.60 232.55 L273.10 231.48 L273.60 230.41 L274.10 229.36 L274.60 228.32 L275.10 227.29 L275.60 226.27 L276.10 225.26 L276.60 224.26 L277.10 223.27 L277.60 222.30 L278.10 221.34 L278.60 220.38 L279.10 219.44 L279.60 218.51 L280.10 217.60 L280.60 216.69 L281.10 215.79 L281.60 214.91 L282.10 214.04 L282.60 213.18 L283.10 212.33 L283.60 211.49 L284.10 210.66 L284.60 209.85 L285.10 209.05 L285.60 208.26 L286.10 207.48 L286.60 206.71 L287.10 205.95 L287.60 205.21 L288.10 204.47 L288.60 203.75 L289.10 203.04 L289.60 202.34 L290.10 201.66 L290.60 200.98 L291.10 200.32 L291.60 199.67 L292.10 199.03 L292.60 198.40 L293.10 197.79 L293.60 197.18 L294.10 196.59 L294.60 196.01 L295.10 195.44 L295.60 194.89 L296.10 194.34 L296.60 193.81 L297.10 193.29 L297.60 192.78 L298.10 192.29 L298.60 191.80 L299.10 191.33 L299.60 190.87 L300.10 190.43 L300.60 189.99 L301.10 189.57 L301.60 189.16 L302.10 188.76 L302.60 188.38 L303.10 188.01 L303.60 187.65 L304.10 187.30 L304.60 186.97 L305.10 186.65 L305.60 186.34 L306.10 186.04 L306.60 185.76 L307.10 185.49 L307.60 185.24 L308.10 185.00 L308.60 184.77 L309.10 184.55 L309.60 184.35 L310.10 184.16 L310.60 183.99 L311.10 183.83 L311.60 183.68 L312.10 183.55 L312.60 183.43 L313.10 183.32 L313.60 183.23 L314.10 183.16 L314.60 183.10 L315.10 183.05 L315.60 183.02 L316.10 183.00 L316.60 183.00 L317.10 183.01 L317.60 183.04 L318.10 183.07 L318.60 183.12 L319.10 183.18 L319.60 183.25 L320.10 183.33 L320.60 183.42 L321.10 183.53 L321.60 183.64 L322.10 183.77 L322.60 183.91 L323.10 184.05 L323.60 184.21 L324.10 184.38 L324.60 184.56 L325.10 184.75 L325.60 184.95 L326.10 185.16 L326.60 185.38 L327.10 185.61 L327.60 185.85 L328.10 186.10 L328.60 186.36 L329.10 186.63 L329.60 186.91 L330.10 187.20 L330.60 187.50 L331.10 187.81 L331.60 188.13 L332.10 188.45 L332.60 188.79 L333.10 189.13 L333.60 189.49 L334.10 189.85 L334.60 190.22 L335.10 190.61 L335.60 191.00 L336.10 191.40 L336.60 191.80 L337.10 192.22 L337.60 192.65 L338.10 193.08 L338.60 193.53 L339.10 193.98 L339.60 194.44 L340.10 194.91 L340.60 195.39 L341.10 195.88 L341.60 196.38 L342.10 196.88 L342.60 197.40 L343.10 197.92 L343.60 198.45 L344.10 199.00 L344.60 199.54 L345.10 200.10 L345.60 200.67 L346.10 201.25 L346.60 201.83 L347.10 202.43 L347.60 203.03 L348.10 203.64 L348.60 204.26 L349.10 204.89 L349.60 205.53 L350.10 206.18 L350.60 206.83 L351.10 207.50 L351.60 208.17 L352.10 208.86 L352.60 209.55 L353.10 210.25 L353.60 210.96 L354.10 211.69 L354.60 212.42 L355.10 213.15 L355.60 213.90 L356.10 214.66 L356.60 215.43 L357.10 216.21 L357.60 216.99 L358.10 217.79 L358.60 218.59 L359.10 219.41 L359.60 220.23 L360.10 221.07 L360.60 221.91 L361.10 222.77 L361.60 223.63 L362.10 224.50 L362.60 225.39 L363.10 226.28 L363.60 227.18 L364.10 228.10 L364.60 229.02 L365.10 229.95 L365.60 230.90 L366.10 231.85 L366.60 232.81 L367.10 233.79 L367.60 234.77 L368.10 235.76 L368.60 236.77 L369.10 237.78 L369.60 238.80 L370.10 239.84 L370.60 240.88 L371.10 241.93 L371.60 243.00 L372.10 244.07 L372.60 245.15 L373.10 246.25 L373.60 247.35 L374.10 248.46 L374.60 249.58 L375.10 250.71 L375.60 251.85 L376.10 253.00 L376.60 254.16 L377.10 255.33 L377.60 256.50 L378.10 257.69 L378.60 258.88 L379.10 260.08 L379.60 261.28 L380.10 262.50 L380.60 263.72 L381.10 264.95 L381.60 266.18 L382.10 267.42 L382.60 268.67 L383.10 269.92 L383.60 271.17 L384.10 272.43 L384.60 273.70 L385.10 274.96 L385.60 276.23 L386.10 277.50 L386.60 278.77 L387.10 280.05 L387.60 281.32 L388.10 282.59 L388.60 283.86 L389.10 285.13 L389.60 286.39 L390.10 287.65 L390.60 288.90 L391.10 290.14 L391.60 291.38 L392.10 292.61 L392.60 293.83 L393.10 295.04 L393.60 296.23 L394.10 297.41 L394.60 298.57 L395.10 299.72 L395.60 300.84 L396.10 301.95 L396.60 303.04 L397.10 304.10 L397.60 305.13 L398.10 306.14 L398.60 307.12 L399.10 308.07 L399.60 308.99 L400.10 309.87 L400.60 310.71 L401.10 311.52 L401.60 312.28 L402.10 313.01 L402.60 313.68 L403.10 314.32 L403.60 314.90 L404.10 315.43 L404.60 315.92 L405.10 316.34 L405.60 316.72 L406.10 317.03 L406.60 317.29 L407.10 317.48 L407.60 317.62 L408.10 317.69 L408.60 317.70 L409.10 317.65 L409.60 317.55 L410.10 317.40 L410.60 317.20 L411.10 316.95 L411.60 316.64 L412.10 316.29 L412.60 315.88 L413.10 315.43 L413.60 314.92 L414.10 314.37 L414.60 313.76 L415.10 313.11 L415.60 312.41 L416.10 311.67 L416.60 310.88 L417.10 310.05 L417.60 309.17 L418.10 308.25 L418.60 307.30 L419.10 306.30 L419.60 305.26 L420.10 304.19 L420.60 303.08 L421.10 301.94 L421.60 300.76 L422.10 299.55 L422.60 298.31 L423.10 297.04 L423.60 295.74 L424.10 294.42 L424.60 293.07 L425.10 291.70 L425.60 290.30 L426.10 288.89 L426.60 287.45 L427.10 286.00 L427.60 284.52 L428.10 283.03 L428.60 281.53 L429.10 280.01 L429.60 278.48 L430.10 276.93 L430.60 275.38 L431.10 273.82 L431.60 272.25 L432.10 270.67 L432.60 269.08 L433.10 267.49 L433.60 265.89 L434.10 264.29 L434.60 262.69 L435.10 261.09 L435.60 259.48 L436.10 257.87 L436.60 256.27 L437.10 254.66 L437.60 253.06 L438.10 251.45 L438.60 249.85 L439.10 248.26 L439.60 246.67 L440.10 245.08 L440.60 243.50 L441.10 241.92 L441.60 240.35 L442.10 238.79 L442.60 237.23 L443.10 235.69 L443.60 234.15 L444.10 232.61 L444.60 231.09 L445.10 229.57 L445.60 228.07 L446.10 226.57 L446.60 225.08 L447.10 223.61 L447.60 222.14 L448.10 220.69 L448.60 219.24 L449.10 217.81 L449.60 216.39 L450.10 214.97 L450.60 213.58 L451.10 212.19 L451.60 210.81 L452.10 209.45 L452.60 208.10 L453.10 206.76 L453.60 205.43 L454.10 204.12 L454.60 202.82 L455.10 201.53 L455.60 200.25 L456.10 198.99 L456.60 197.74 L457.10 196.50 L457.60 195.28 L458.10 194.07 L458.60 192.87 L459.10 191.69 L459.60 190.52 L460.10 189.36 L460.60 188.21 L461.10 187.08 L461.60 185.96 L462.10 184.86 L462.60 183.77 L463.10 182.69 L463.60 181.63 L464.10 180.57 L464.60 179.54 L465.10 178.51 L465.60 177.50 L466.10 176.50 L466.60 175.52 L467.10 174.54 L467.60 173.59 L468.10 172.64 L468.60 171.71 L469.10 170.79 L469.60 169.88 L470.10 168.99 L470.60 168.11 L471.10 167.24 L471.60 166.38 L472.10 165.54 L472.60 164.71 L473.10 163.89 L473.60 163.09 L474.10 162.30 L474.60 161.52 L475.10 160.75 L475.60 160.00 L476.10 159.26 L476.60 158.53 L477.10 157.81 L477.60 157.10 L478.10 156.41 L478.60 155.73 L479.10 155.06 L479.60 154.40 L480.10 153.76 L480.60 153.12 L481.10 152.50 L481.60 151.89 L482.10 151.29 L482.60 150.70 L483.10 150.13 L483.60 149.56 L484.10 149.01 L484.60 148.47 L485.10 147.94 L485.60 147.42 L486.10 146.91 L486.60 146.41 L487.10 145.92 L487.60 145.44 L488.10 144.98 L488.60 144.52 L489.10 144.08 L489.60 143.64 L490.10 143.22 L490.60 142.81 L491.10 142.40 L491.60 142.01 L492.10 141.63 L492.60 141.26 L493.10 140.89 L493.60 140.54 L494.10 140.20 L494.60 139.86 L495.10 139.54 L495.60 139.22 L496.10 138.92 L496.60 138.62 L497.10 138.34 L497.60 138.06 L498.10 137.79 L498.60 137.53 L499.10 137.28 L499.60 137.04 L500.10 136.81 L500.60 136.58 L501.10 136.37 L501.60 136.16 L502.10 135.96 L502.60 135.77 L503.10 135.59 L503.60 135.42 L504.10 135.25 L504.60 135.09 L505.10 134.95 L505.60 134.80 L506.10 134.67 L506.60 134.55 L507.10 134.43 L507.60 134.32 L508.10 134.21 L508.60 134.12 L509.10 134.03 L509.60 133.95 L510.10 133.87 L510.60 133.81 L511.10 133.75 L511.60 133.69 L512.10 133.65 L512.60 133.61 L513.10 133.57 L513.60 133.54 L514.10 133.52 L514.60 133.51 L515.10 133.50 L515.60 133.50 L516.10 133.51 L516.60 133.52 L517.10 133.54 L517.60 133.56 L518.10 133.60 L518.60 133.64 L519.10 133.68 L519.60 133.74 L520.10 133.80 L520.60 133.87 L521.10 133.95 L521.60 134.03 L522.10 134.13 L522.60 134.22 L523.10 134.33 L523.60 134.44 L524.10 134.57 L524.60 134.70 L525.10 134.83 L525.60 134.98 L526.10 135.13 L526.60 135.29 L527.10 135.45 L527.60 135.63 L528.10 135.81 L528.60 136.00 L529.10 136.20 L529.60 136.40 L530.10 136.62 L530.60 136.84 L531.10 137.07 L531.60 137.30 L532.10 137.55 L532.60 137.80 L533.10 138.06 L533.60 138.33 L534.10 138.61 L534.60 138.89 L535.10 139.19 L535.60 139.49 L536.10 139.80 L536.60 140.11 L537.10 140.44 L537.60 140.78 L538.10 141.12 L538.60 141.47 L539.10 141.83 L539.60 142.20 L540.10 142.57 L540.60 142.96 L541.10 143.35 L541.60 143.75 L542.10 144.17 L542.60 144.58 L543.10 145.01 L543.60 145.45 L544.10 145.90 L544.60 146.35 L545.10 146.82 L545.60 147.29 L546.10 147.77 L546.60 148.26 L547.10 148.76 L547.60 149.27 L548.10 149.79 L548.60 150.31 L549.10 150.85 L549.60 151.40 L550.10 151.95 L550.60 152.52 L551.10 153.09 L551.60 153.67 L552.10 154.27 L552.60 154.87 L553.10 155.48 L553.60 156.10 L554.10 156.74 L554.60 157.38 L555.10 158.03 L555.60 158.69 L556.10 159.36 L556.60 160.04 L557.10 160.73 L557.60 161.43 L558.10 162.14 L558.60 162.86 L559.10 163.60 L559.60 164.34 L560.10 165.09 L560.60 165.85 L561.10 166.63 L561.60 167.41 L562.10 168.20 L562.60 169.01 L563.10 169.82 L563.60 170.65 L564.10 171.48 L564.60 172.33 L565.10 173.19 L565.60 174.06 L566.10 174.94 L566.60 175.83 L567.10 176.73 L567.60 177.64 L568.10 178.57 L568.60 179.50 L569.10 180.45 L569.60 181.41 L570.10 182.38 L570.60 183.36 L571.10 184.35 L571.60 185.35 L572.10 186.37 L572.60 187.39 L573.10 188.43 L573.60 189.48 L574.10 190.54 L574.60 191.62 L575.10 192.70 L575.60 193.80 L576.10 194.91 L576.60 196.03 L577.10 197.16 L577.60 198.30 L578.10 199.46 L578.60 200.63 L579.10 201.81 L579.60 203.00 L580.10 204.20 L580.60 205.42 L581.10 206.65 L581.60 207.89 L582.10 209.14 L582.60 210.41 L583.10 211.68 L583.60 212.97 L584.10 214.27 L584.60 215.59 L585.10 216.91 L585.60 218.25 L586.10 219.60 L586.60 220.96 L587.10 222.33 L587.60 223.71 L588.10 225.11 L588.60 226.52 L589.10 227.94 L589.60 229.37 L590.10 230.81 L590.60 232.26 L591.10 233.73 L591.60 235.21 L592.10 236.69 L592.30 237.29" stroke="#0000ff"/>
<path d="M98.60 210.40 L99.10 208.71 L99.60 207.04 L100.10 205.38 L100.60 203.74 L101.10 202.11 L101.60 200.51 L102.10 198.91 L102.60 197.34 L103.10 195.78 L103.60 194.24 L104.10 192.72 L104.60 191.21 L105.10 189.72 L105.60 188.24 L106.10 186.79 L106.60 185.35 L107.10 183.92 L107.60 182.52 L108.10 181.13 L108.60 179.75 L109.10 178.40 L109.60 177.06 L110.10 175.73 L110.60 174.43 L111.10 173.14 L111.60 171.87 L112.10 170.61 L112.60 169.37 L113.10 168.15 L113.60 166.94 L114.10 165.75 L114.60 164.57 L115.10 163.41 L115.60 162.27 L116.10 161.15 L116.60 160.04 L117.10 158.94 L117.60 157.86 L118.10 156.80 L118.60 155.76 L119.10 154.73 L119.60 153.71 L120.10 152.72 L120.60 151.73 L121.10 150.77 L121.60 149.82 L122.10 148.88 L122.60 147.96 L123.10 147.06 L123.60 146.17 L124.10 145.29 L124.60 144.44 L125.10 143.59 L125.60 142.77 L126.10 141.95 L126.60 141.16 L127.10 140.38 L127.60 139.61 L128.10 138.86 L128.60 138.12 L129.10 137.40 L129.60 136.69 L130.10 136.00 L130.60 135.33 L131.10 134.66 L131.60 134.02 L132.10 133.39 L132.60 132.77 L133.10 132.17 L133.60 131.58 L134.10 131.00 L134.60 130.45 L135.10 129.90 L135.60 129.37 L136.10 128.86 L136.60 128.36 L137.10 127.87 L137.60 127.40 L138.10 126.95 L138.60 126.50 L139.10 126.08 L139.60 125.66 L140.10 125.26 L140.60 124.88 L141.10 124.51 L141.60 124.15 L142.10 123.81 L142.60 123.48 L143.10 123.17 L143.60 122.87 L144.10 122.59 L144.60 122.32 L145.10 122.06 L145.60 121.82 L146.10 121.59 L146.60 121.38 L147.10 121.18 L147.60 121.00 L148.10 120.83 L148.60 120.67 L149.10 120.53 L149.60 120.40 L150.10 120.29 L150.60 120.19 L151.10 120.11 L151.60 120.04 L152.10 119.98 L152.60 119.94 L153.10 119.91 L153.60 119.90 L154.10 119.90 L154.60 119.92 L155.10 119.94 L155.60 119.99 L156.10 120.04 L156.60 120.11 L157.10 120.19 L157.60 120.28 L158.10 120.39 L158.60 120.51 L159.10 120.64 L159.60 120.79 L160.10 120.94 L160.60 121.11 L161.10 121.30 L161.60 121.50 L162.10 121.70 L162.60 121.93 L163.10 122.16 L163.60 122.41 L164.10 122.67 L164.60 122.94 L165.10 123.23 L165.60 123.53 L166.10 123.84 L166.60 124.16 L167.10 124.50 L167.60 124.85 L168.10 125.21 L168.60 125.58 L169.10 125.97 L169.60 126.36 L170.10 126.78 L170.60 127.20 L171.10 127.64 L171.60 128.08 L172.10 128.54 L172.60 129.02 L173.10 129.50 L173.60 130.00 L174.10 130.51 L174.60 131.03 L175.10 131.57 L175.60 132.12 L176.10 132.68 L176.60 133.25 L177.10 133.83 L177.60 134.43 L178.10 135.04 L178.60 135.66 L179.10 136.30 L179.60 136.94 L180.10 137.60 L180.60 138.27 L181.10 138.96 L181.60 139.65 L182.10 140.36 L182.60 141.08 L183.10 141.81 L183.60 142.56 L184.10 143.32 L184.60 144.09 L185.10 144.87 L185.60 145.67 L186.10 146.47 L186.60 147.29 L187.10 148.12 L187.60 148.97 L188.10 149.83 L188.60 150.70 L189.10 151.58 L189.60 152.47 L190.10 153.38 L190.60 154.30 L191.10 155.23 L191.60 156.17 L192.10 157.13 L192.60 158.10 L193.10 159.08 L193.60 160.07 L194.10 161.08 L194.60 162.10 L195.10 163.13 L195.60 164.17 L196.10 165.23 L196.60 166.29 L197.10 167.37 L197.60 168.47 L198.10 169.57 L198.60 170.69 L199.10 171.82 L199.60 172.96 L200.10 174.12 L200.60 175.29 L201.10 176.46 L201.60 177.66 L202.10 178.86 L202.60 180.08 L203.10 181.31 L203.60 182.55 L204.10 183.80 L204.60 185.07 L205.10 186.34 L205.60 187.63 L206.10 188.93 L206.60 190.25 L207.10 191.57 L207.60 192.91 L208.10 194.26 L208.60 195.62 L209.10 196.99 L209.60 198.38 L210.10 199.77 L210.60 201.18 L211.10 202.60 L211.60 204.03 L212.10 205.47 L212.60 206.92 L213.10 208.38 L213.60 209.85 L214.10 211.34 L214.60 212.83 L215.10 214.33 L215.60 215.85 L216.10 217.37 L216.60 218.91 L217.10 220.45 L217.60 222.00 L218.10 223.57 L218.60 225.14 L219.10 226.72 L219.60 228.31 L220.10 229.90 L220.60 231.51 L221.10 233.12 L221.60 234.74 L222.10 236.36 L222.60 238.00 L223.10 239.63 L223.60 241.28 L224.10 242.93 L224.60 244.58 L225.10 246.24 L225.60 247.91 L226.10 249.57 L226.60 251.24 L227.10 252.92 L227.60 254.59 L228.10 256.27 L228.60 257.94 L229.10 259.62 L229.60 261.29 L230.10 262.97 L230.60 264.64 L231.10 266.31 L231.60 267.98 L232.10 269.64 L232.60 271.30 L233.10 272.95 L233.60 274.59 L234.10 276.23 L234.60 277.86 L235.10 279.47 L235.60 281.08 L236.10 282.68 L236.60 284.26 L237.10 285.83 L237.60 287.38 L238.10 288.92 L238.60 290.44 L239.10 291.94 L239.60 293.42 L240.10 294.88 L240.60 296.32 L241.10 297.73 L241.60 299.12 L242.10 300.48 L242.60 301.82 L243.10 303.13 L243.60 304.40 L244.10 305.65 L244.60 306.86 L245.10 308.03 L245.60 309.17 L246.10 310.28 L246.60 311.34 L247.10 312.37 L247.60 313.35 L248.10 314.29 L248.60 315.19 L249.10 316.05 L249.60 316.86 L250.10 317.62 L250.60 318.33 L251.10 319.00 L251.60 319.61 L252.10 320.18 L252.60 320.69 L253.10 321.15 L253.60 321.56 L254.10 321.91 L254.60 322.21 L255.10 322.46 L255.60 322.65 L256.10 322.79 L256.60 322.87 L257.10 322.90 L257.60 322.86 L258.10 322.75 L258.60 322.56 L259.10 322.30 L259.60 321.97 L260.10 321.57 L260.60 321.11 L261.10 320.58 L261.60 319.98 L262.10 319.32 L262.60 318.61 L263.10 317.83 L263.60 317.00 L264.10 316.12 L264.60 315.19 L265.10 314.21 L265.60 313.19 L266.10 312.12 L266.60 311.02 L267.10 309.87 L267.60 308.69 L268.10 307.47 L268.60 306.23 L269.10 304.95 L269.60 303.65 L270.10 302.32 L270.60 300.97 L271.10 299.60 L271.60 298.21 L272.10 296.81 L272.60 295.38 L273.10 293.95 L273.60 292.50 L274.10 291.04 L274.60 289.58 L275.10 288.11 L275.60 286.63 L276.10 285.14 L276.60 283.66 L277.10 282.17 L277.60 280.68 L278.10 279.19 L278.60 277.70 L279.10 276.21 L279.60 274.73 L280.10 273.25 L280.60 271.77 L281.10 270.30 L281.60 268.84 L282.10 267.38 L282.60 265.94 L283.10 264.50 L283.60 263.06 L284.10 261.64 L284.60 260.23 L285.10 258.82 L285.60 257.43 L286.10 256.05 L286.60 254.68 L287.10 253.32 L287.60 251.97 L288.10 250.64 L288.60 249.31 L289.10 248.00 L289.60 246.71 L290.10 245.42 L290.60 244.15 L291.10 242.89 L291.60 241.65 L292.10 240.42 L292.60 239.20 L293.10 238.00 L293.60 236.81 L294.10 235.63 L294.60 234.47 L295.10 233.32 L295.60 232.19 L296.10 231.07 L296.60 229.96 L297.10 228.87 L297.60 227.79 L298.10 226.73 L298.60 225.68 L299.10 224.64 L299.60 223.62 L300.10 222.61 L300.60 221.62 L301.10 220.64 L301.60 219.67 L302.10 218.72 L302.60 217.78 L303.10 216.86 L303.60 215.95 L304.10 215.05 L304.60 214.17 L305.10 213.30 L305.60 212.44 L306.10 211.60 L306.60 210.77 L307.10 209.95 L307.60 209.15 L308.10 208.36 L308.60 207.58 L309.10 206.82 L309.60 206.07 L310.10 205.33 L310.60 204.61 L311.10 203.89 L311.60 203.19 L312.10 202.51 L312.60 201.83 L313.10 201.17 L313.60 200.52 L314.10 199.88 L314.60 199.26 L315.10 198.65 L315.60 198.04 L316.10 197.46 L316.60 196.88 L317.10 196.31 L317.60 195.76 L318.10 195.22 L318.60 194.69 L319.10 194.17 L319.60 193.67 L320.10 193.17 L320.60 192.69 L321.10 192.22 L321.60 191.76 L322.10 191.31 L322.60 190.88 L323.10 190.45 L323.60 190.04 L324.10 189.63 L324.60 189.24 L325.10 188.86 L325.60 188.49 L326.10 188.13 L326.60 187.79 L327.10 187.45 L327.60 187.13 L328.10 186.81 L328.60 186.51 L329.10 186.22 L329.60 185.93 L330.10 185.66 L330.60 185.40 L331.10 185.16 L331.60 184.92 L332.10 184.69 L332.60 184.47 L333.10 184.27 L333.60 184.07 L334.10 183.89 L334.60 183.71 L335.10 183.55 L335.60 183.40 L336.10 183.26 L336.60 183.13 L337.10 183.01 L337.60 182.90 L338.10 182.80 L338.60 182.71 L339.10 182.64 L339.60 182.57 L340.10 182.51 L340.60 182.47 L341.10 182.44 L341.60 182.41 L342.10 182.40 L342.60 182.40 L343.10 182.41 L343.60 182.43 L344.10 182.45 L344.60 182.49 L345.10 182.54 L345.60 182.59 L346.10 182.66 L346.60 182.73 L347.10 182.82 L347.60 182.91 L348.10 183.02 L348.60 183.13 L349.10 183.26 L349.60 183.40 L350.10 183.54 L350.60 183.70 L351.10 183.86 L351.60 184.04 L352.10 184.23 L352.60 184.43 L353.10 184.64 L353.60 184.86 L354.10 185.09 L354.60 185.33 L355.10 185.58 L355.60 185.84 L356.10 186.12 L356.60 186.40 L357.10 186.70 L357.60 187.00 L358.10 187.32 L358.60 187.65 L359.10 187.99 L359.60 188.35 L360.10 188.71 L360.60 189.09 L361.10 189.48 L361.60 189.87 L362.10 190.29 L362.60 190.71 L363.10 191.14 L363.60 191.59 L364.10 192.05 L364.60 192.52 L365.10 193.00 L365.60 193.50 L366.10 194.00 L366.60 194.52 L367.10 195.05 L367.60 195.60 L368.10 196.15 L368.60 196.72 L369.10 197.30 L369.60 197.89 L370.10 198.50 L370.60 199.11 L371.10 199.75 L371.60 200.39 L372.10 201.04 L372.60 201.71 L373.10 202.39 L373.60 203.09 L374.10 203.79 L374.60 204.51 L375.10 205.24 L375.60 205.99 L376.10 206.74 L376.60 207.51 L377.10 208.30 L377.60 209.09 L378.10 209.90 L378.60 210.72 L379.10 211.55 L379.60 212.40 L380.10 213.26 L380.60 214.13 L381.10 215.02 L381.60 215.92 L382.10 216.83 L382.60 217.75 L383.10 218.68 L383.60 219.63 L384.10 220.59 L384.60 221.57 L385.10 222.55 L385.60 223.55 L386.10 224.56 L386.60 225.58 L387.10 226.62 L387.60 227.67 L388.10 228.72 L388.60 229.79 L389.10 230.88 L389.60 231.97 L390.10 233.08 L390.60 234.19 L391.10 235.32 L391.60 236.46 L392.10 237.61 L392.60 238.77 L393.10 239.94 L393.60 241.13 L394.10 242.32 L394.60 243.52 L395.10 244.73 L395.60 245.95 L396.10 247.18 L396.60 248.42 L397.10 249.67 L397.60 250.93 L398.10 252.19 L398.60 253.46 L399.10 254.74 L399.60 256.03 L400.10 257.32 L400.60 258.62 L401.10 259.93 L401.60 261.24 L402.10 262.56 L402.60 263.88 L403.10 265.20 L403.60 266.53 L404.10 267.86 L404.60 269.19 L405.10 270.53 L405.60 271.86 L406.10 273.20 L406.60 274.54 L407.10 275.87 L407.60 277.21 L408.10 278.54 L408.60 279.87 L409.10 281.20 L409.60 282.52 L410.10 283.84 L410.60 285.15 L411.10 286.46 L411.60 287.75 L412.10 289.04 L412.60 290.32 L413.10 291.59 L413.60 292.84 L414.10 294.09 L414.60 295.32 L415.10 296.54 L415.60 297.74 L416.10 298.92 L416.60 300.09 L417.10 301.24 L417.60 302.37 L418.10 303.48 L418.60 304.57 L419.10 305.63 L419.60 306.67 L420.10 307.68 L420.60 308.67 L421.10 309.63 L421.60 310.56 L422.10 311.47 L422.60 312.34 L423.10 313.18 L423.60 313.99 L424.10 314.76 L424.60 315.50 L425.10 316.20 L425.60 316.87 L426.10 317.50 L426.60 318.09 L427.10 318.64 L427.60 319.15 L428.10 319.63 L428.60 320.06 L429.10 320.44 L429.60 320.79 L430.10 321.09 L430.60 321.35 L431.10 321.57 L431.60 321.74 L432.10 321.87 L432.60 321.96 L433.10 322.00 L433.60 321.99 L434.10 321.92 L434.60 321.80 L435.10 321.62 L435.60 321.38 L436.10 321.09 L436.60 320.74 L437.10 320.33 L437.60 319.87 L438.10 319.35 L438.60 318.78 L439.10 318.17 L439.60 317.50 L440.10 316.78 L440.60 316.01 L441.10 315.20 L441.60 314.35 L442.10 313.44 L442.60 312.50 L443.10 311.52 L443.60 310.50 L444.10 309.44 L444.60 308.34 L445.10 307.21 L445.60 306.04 L446.10 304.85 L446.60 303.62 L447.10 302.37 L447.60 301.08 L448.10 299.78 L448.60 298.44 L449.10 297.09 L449.60 295.71 L450.10 294.31 L450.60 292.90 L451.10 291.46 L451.60 290.01 L452.10 288.55 L452.60 287.07 L453.10 285.58 L453.60 284.08 L454.10 282.56 L454.60 281.04 L455.10 279.51 L455.60 277.97 L456.10 276.43 L456.60 274.88 L457.10 273.32 L457.60 271.76 L458.10 270.20 L458.60 268.64 L459.10 267.07 L459.60 265.51 L460.10 263.94 L460.60 262.38 L461.10 260.82 L461.60 259.26 L462.10 257.70 L462.60 256.14 L463.10 254.59 L463.60 253.04 L464.10 251.50 L464.60 249.96 L465.10 248.43 L465.60 246.91 L466.10 245.39 L466.60 243.87 L467.10 242.37 L467.60 240.87 L468.10 239.38 L468.60 237.89 L469.10 236.42 L469.60 234.95 L470.10 233.49 L470.60 232.05 L471.10 230.61 L471.60 229.18 L472.10 227.75 L472.60 226.34 L473.10 224.94 L473.60 223.55 L474.10 222.17 L474.60 220.80 L475.10 219.44 L475.60 218.09 L476.10 216.75 L476.60 215.42 L477.10 214.11 L477.60 212.80 L478.10 211.50 L478.60 210.22 L479.10 208.95 L479.60 207.69 L480.10 206.43 L480.60 205.20 L481.10 203.97 L481.60 202.75 L482.10 201.55 L482.60 200.35 L483.10 199.17 L483.60 198.00 L484.10 196.84 L484.60 195.69 L485.10 194.55 L485.60 193.43 L486.10 192.32 L486.60 191.21 L487.10 190.12 L487.60 189.04 L488.10 187.98 L488.60 186.92 L489.10 185.88 L489.60 184.84 L490.10 183.82 L490.60 182.81 L491.10 181.81 L491.60 180.82 L492.10 179.85 L492.60 178.88 L493.10 177.93 L493.60 176.99 L494.10 176.06 L494.60 175.14 L495.10 174.23 L495.60 173.33 L496.10 172.44 L496.60 171.57 L497.10 170.71 L497.60 169.85 L498.10 169.01 L498.60 168.18 L499.10 167.36 L499.60 166.55 L500.10 165.75 L500.60 164.97 L501.10 164.19 L501.60 163.42 L502.10 162.67 L502.60 161.93 L503.10 161.19 L503.60 160.47 L504.10 159.76 L504.60 159.06 L505.10 158.37 L505.60 157.69 L506.10 157.02 L506.60 156.36 L507.10 155.71 L507.60 155.07 L508.10 154.44 L508.60 153.83 L509.10 153.22 L509.60 152.63 L510.10 152.04 L510.60 151.46 L511.10 150.90 L511.60 150.34 L512.10 149.80 L512.60 149.27 L513.10 148.74 L513.60 148.23 L514.10 147.72 L514.60 147.23 L515.10 146.75 L515.60 146.27 L516.10 145.81 L516.60 145.36 L517.10 144.91 L517.60 144.48 L518.10 144.06 L518.60 143.64 L519.10 143.24 L519.60 142.85 L520.10 142.46 L520.60 142.09 L521.10 141.73 L521.60 141.37 L522.10 141.03 L522.60 140.70 L523.10 140.37 L523.60 140.06 L524.10 139.75 L524.60 139.46 L525.10 139.18 L525.60 138.90 L526.10 138.64 L526.60 138.38 L527.10 138.14 L527.60 137.90 L528.10 137.68 L528.60 137.46 L529.10 137.25 L529.60 137.06 L530.10 136.87 L530.60 136.70 L531.10 136.53 L531.60 136.37 L532.10 136.23 L532.60 136.09 L533.10 135.96 L533.60 135.84 L534.10 135.74 L534.60 135.64 L535.10 135.55 L535.60 135.47 L536.10 135.40 L536.60 135.34 L537.10 135.30 L537.60 135.26 L538.10 135.23 L538.60 135.21 L539.10 135.20 L539.60 135.20 L540.10 135.21 L540.60 135.23 L541.10 135.25 L541.60 135.28 L542.10 135.32 L542.60 135.37 L543.10 135.43 L543.60 135.49 L544.10 135.57 L544.60 135.65 L545.10 135.73 L545.60 135.83 L546.10 135.93 L546.60 136.05 L547.10 136.17 L547.60 136.30 L548.10 136.43 L548.60 136.58 L549.10 136.73 L549.60 136.89 L550.10 137.06 L550.60 137.23 L551.10 137.42 L551.60 137.61 L552.10 137.81 L552.60 138.02 L553.10 138.23 L553.60 138.46 L554.10 138.69 L554.60 138.93 L555.10 139.18 L555.60 139.44 L556.10 139.70 L556.60 139.98 L557.10 140.26 L557.60 140.55 L558.10 140.85 L558.60 141.15 L559.10 141.47 L559.60 141.79 L560.10 142.12 L560.60 142.46 L561.10 142.81 L561.60 143.16 L562.10 143.53 L562.60 143.90 L563.10 144.28 L563.60 144.67 L564.10 145.07 L564.60 145.47 L565.10 145.89 L565.60 146.31 L566.10 146.74 L566.60 147.18 L567.10 147.63 L567.60 148.09 L568.10 148.55 L568.60 149.03 L569.10 149.51 L569.60 150.00 L570.10 150.50 L570.60 151.01 L571.10 151.52 L571.60 152.05 L572.10 152.58 L572.60 153.13 L573.10 153.68 L573.60 154.24 L574.10 154.81 L574.60 155.38 L575.10 155.97 L575.60 156.56 L576.10 157.17 L576.60 157.78 L577.10 158.40 L577.60 159.03 L578.10 159.67 L578.60 160.32 L579.10 160.98 L579.60 161.65 L580.10 162.32 L580.60 163.01 L581.10 163.70 L581.60 164.40 L582.10 165.12 L582.60 165.84 L583.10 166.57 L583.60 167.31 L584.10 168.06 L584.60 168.81 L585.10 169.58 L585.60 170.36 L586.10 171.14 L586.60 171.94 L587.10 172.74 L587.60 173.56 L588.10 174.38 L588.60 175.21 L589.10 176.05 L589.60 176.91 L590.10 177.77 L590.60 178.64 L591.10 179.52 L591.60 180.41 L592.10 181.30 L592.30 181.67" stroke="#ff00ff"/>
<path d="M98.60 273.22 L99.10 273.18 L99.60 273.07 L100.10 272.87 L100.60 272.59 L101.10 272.24 L101.60 271.81 L102.10 271.31 L102.60 270.73 L103.10 270.09 L103.60 269.37 L104.10 268.59 L104.60 267.74 L105.10 266.83 L105.60 265.86 L106.10 264.84 L106.60 263.75 L107.10 262.62 L107.60 261.43 L108.10 260.20 L108.60 258.92 L109.10 257.60 L109.60 256.23 L110.10 254.83 L110.60 253.39 L111.10 251.92 L111.60 250.42 L112.10 248.90 L112.60 247.34 L113.10 245.76 L113.60 244.16 L114.10 242.54 L114.60 240.90 L115.10 239.25 L115.60 237.59 L116.10 235.91 L116.60 234.22 L117.10 232.52 L117.60 230.82 L118.10 229.11 L118.60 227.40 L119.10 225.68 L119.60 223.97 L120.10 222.25 L120.60 220.54 L121.10 218.83 L121.60 217.12 L122.10 215.42 L122.60 213.73 L123.10 212.04 L123.60 210.36 L124.10 208.68 L124.60 207.02 L125.10 205.37 L125.60 203.72 L126.10 202.09 L126.60 200.47 L127.10 198.86 L127.60 197.27 L128.10 195.68 L128.60 194.12 L129.10 192.56 L129.60 191.02 L130.10 189.50 L130.60 187.99 L131.10 186.50 L131.60 185.02 L132.10 183.56 L132.60 182.11 L133.10 180.68 L133.60 179.27 L134.10 177.87 L134.60 176.50 L135.10 175.13 L135.60 173.79 L136.10 172.46 L136.60 171.15 L137.10 169.86 L137.60 168.59 L138.10 167.33 L138.60 166.09 L139.10 164.87 L139.60 163.66 L140.10 162.48 L140.60 161.31 L141.10 160.16 L141.60 159.03 L142.10 157.91 L142.60 156.81 L143.10 155.73 L143.60 154.67 L144.10 153.62 L144.60 152.60 L145.10 151.59 L145.60 150.59 L146.10 149.62 L146.60 148.66 L147.10 147.72 L147.60 146.79 L148.10 145.88 L148.60 144.99 L149.10 144.12 L149.60 143.26 L150.10 142.42 L150.60 141.60 L151.10 140.79 L151.60 140.00 L152.10 139.23 L152.60 138.47 L153.10 137.73 L153.60 137.00 L154.10 136.29 L154.60 135.60 L155.10 134.92 L155.60 134.26 L156.10 133.61 L156.60 132.98 L157.10 132.36 L157.60 131.76 L158.10 131.18 L158.60 130.60 L159.10 130.05 L159.60 129.51 L160.10 128.98 L160.60 128.47 L161.10 127.97 L161.60 127.49 L162.10 127.02 L162.60 126.57 L163.10 126.13 L163.60 125.71 L164.10 125.30 L164.60 124.90 L165.10 124.52 L165.60 124.15 L166.10 123.79 L166.60 123.45 L167.10 123.12 L167.60 122.80 L168.10 122.50 L168.60 122.21 L169.10 121.94 L169.60 121.67 L170.10 121.42 L170.60 121.19 L171.10 120.96 L171.60 120.75 L172.10 120.55 L172.60 120.37 L173.10 120.19 L173.60 120.03 L174.10 119.88 L174.60 119.74 L175.10 119.62 L175.60 119.50 L176.10 119.40 L176.60 119.31 L177.10 119.23 L177.60 119.16 L178.10 119.11 L178.60 119.06 L179.10 119.03 L179.60 119.01 L180.10 119.00 L180.60 119.00 L181.10 119.01 L181.60 119.04 L182.10 119.08 L182.60 119.12 L183.10 119.18 L183.60 119.26 L184.10 119.34 L184.60 119.44 L185.10 119.54 L185.60 119.66 L186.10 119.80 L186.60 119.94 L187.10 120.10 L187.60 120.26 L188.10 120.45 L188.60 120.64 L189.10 120.84 L189.60 121.06 L190.10 121.29 L190.60 121.53 L191.10 121.79 L191.60 122.06 L192.10 122.34 L192.60 122.63 L193.10 122.93 L193.60 123.25 L194.10 123.58 L194.60 123.92 L195.10 124.28 L195.60 124.65 L196.10 125.03 L196.60 125.42 L197.10 125.83 L197.60 126.25 L198.10 126.68 L198.60 127.13 L199.10 127.59 L199.60 128.06 L200.10 128.54 L200.60 129.04 L201.10 129.55 L201.60 130.08 L202.10 130.61 L202.60 131.16 L203.10 131.73 L203.60 132.30 L204.10 132.90 L204.60 133.50 L205.10 134.12 L205.60 134.75 L206.10 135.39 L206.60 136.05 L207.10 136.72 L207.60 137.41 L208.10 138.10 L208.60 138.82 L209.10 139.54 L209.60 140.28 L210.10 141.03 L210.60 141.80 L211.10 142.58 L211.60 143.38 L212.10 144.18 L212.60 145.01 L213.10 145.84 L213.60 146.69 L214.10 147.56 L214.60 148.43 L215.10 149.32 L215.60 150.23 L216.10 151.15 L216.60 152.08 L217.10 153.03 L217.60 153.99 L218.10 154.97 L218.60 155.96 L219.10 156.96 L219.60 157.98 L220.10 159.01 L220.60 160.05 L221.10 161.11 L221.60 162.19 L222.10 163.27 L222.60 164.37 L223.10 165.49 L223.60 166.62 L224.10 167.76 L224.60 168.92 L225.10 170.09 L225.60 171.28 L226.10 172.47 L226.60 173.69 L227.10 174.91 L227.60 176.15 L228.10 177.41 L228.60 178.67 L229.10 179.95 L229.60 181.25 L230.10 182.56 L230.60 183.88 L231.10 185.21 L231.60 186.56 L232.10 187.92 L232.60 189.29 L233.10 190.68 L233.60 192.08 L234.10 193.49 L234.60 194.91 L235.10 196.35 L235.60 197.80 L236.10 199.26 L236.60 200.73 L237.10 202.21 L237.60 203.71 L238.10 205.22 L238.60 206.73 L239.10 208.26 L239.60 209.80 L240.10 211.35 L240.60 212.91 L241.10 214.48 L241.60 216.06 L242.10 217.65 L242.60 219.25 L243.10 220.85 L243.60 222.46 L244.10 224.09 L244.60 225.71 L245.10 227.35 L245.60 228.99 L246.10 230.64 L246.60 232.30 L247.10 233.95 L247.60 235.62 L248.10 237.29 L248.60 238.96 L249.10 240.63 L249.60 242.31 L250.10 243.99 L250.60 245.67 L251.10 247.35 L251.60 249.03 L252.10 250.71 L252.60 252.38 L253.10 254.06 L253.60 255.73 L254.10 257.39 L254.60 259.05 L255.10 260.71 L255.60 262.36 L256.10 264.00 L256.60 265.63 L257.10 267.25 L257.60 268.86 L258.10 270.46 L258.60 272.04 L259.10 273.61 L259.60 275.17 L260.10 276.71 L260.60 278.23 L261.10 279.73 L261.60 281.21 L262.10 282.68 L262.60 284.11 L263.10 285.53 L263.60 286.92 L264.10 288.28 L264.60 289.62 L265.10 290.92 L265.60 292.20 L266.10 293.45 L266.60 294.66 L267.10 295.84 L267.60 296.98 L268.10 298.09 L268.60 299.16 L269.10 300.19 L269.60 301.18 L270.10 302.13 L270.60 303.04 L271.10 303.91 L271.60 304.73 L272.10 305.51 L272.60 306.24 L273.10 306.92 L273.60 307.56 L274.10 308.15 L274.60 308.70 L275.10 309.19 L275.60 309.64 L276.10 310.03 L276.60 310.38 L277.10 310.67 L277.60 310.92 L278.10 311.11 L278.60 311.26 L279.10 311.35 L279.60 311.40 L280.10 311.39 L280.60 311.32 L281.10 311.19 L281.60 311.00 L282.10 310.75 L282.60 310.45 L283.10 310.09 L283.60 309.67 L284.10 309.20 L284.60 308.68 L285.10 308.11 L285.60 307.49 L286.10 306.83 L286.60 306.12 L287.10 305.37 L287.60 304.57 L288.10 303.74 L288.60 302.87 L289.10 301.97 L289.60 301.03 L290.10 300.05 L290.60 299.05 L291.10 298.02 L291.60 296.96 L292.10 295.88 L292.60 294.78 L293.10 293.65 L293.60 292.50 L294.10 291.33 L294.60 290.15 L295.10 288.95 L295.60 287.73 L296.10 286.51 L296.60 285.27 L297.10 284.02 L297.60 282.76 L298.10 281.49 L298.60 280.22 L299.10 278.94 L299.60 277.65 L300.10 276.37 L300.60 275.07 L301.10 273.78 L301.60 272.49 L302.10 271.19 L302.60 269.90 L303.10 268.60 L303.60 267.31 L304.10 266.02 L304.60 264.74 L305.10 263.45 L305.60 262.18 L306.10 260.90 L306.60 259.63 L307.10 258.37 L307.60 257.12 L308.10 255.87 L308.60 254.62 L309.10 253.39 L309.60 252.16 L310.10 250.94 L310.60 249.73 L311.10 248.53 L311.60 247.33 L312.10 246.15 L312.60 244.97 L313.10 243.81 L313.60 242.65 L314.10 241.51 L314.60 240.37 L315.10 239.24 L315.60 238.13 L316.10 237.02 L316.60 235.93 L317.10 234.84 L317.60 233.77 L318.10 232.71 L318.60 231.66 L319.10 230.61 L319.60 229.58 L320.10 228.57 L320.60 227.56 L321.10 226.56 L321.60 225.58 L322.10 224.60 L322.60 223.64 L323.10 222.69 L323.60 221.74 L324.10 220.81 L324.60 219.90 L325.10 218.99 L325.60 218.09 L326.10 217.21 L326.60 216.33 L327.10 215.47 L327.60 214.62 L328.10 213.78 L328.60 212.95 L329.10 212.13 L329.60 211.32 L330.10 210.53 L330.60 209.74 L331.10 208.97 L331.60 208.21 L332.10 207.45 L332.60 206.71 L333.10 205.98 L333.60 205.26 L334.10 204.55 L334.60 203.85 L335.10 203.17 L335.60 202.49 L336.10 201.82 L336.60 201.17 L337.10 200.52 L337.60 199.89 L338.10 199.27 L338.60 198.65 L339.10 198.05 L339.60 197.46 L340.10 196.88 L340.60 196.30 L341.10 195.74 L341.60 195.19 L342.10 194.65 L342.60 194.12 L343.10 193.60 L343.60 193.10 L344.10 192.60 L344.60 192.11 L345.10 191.63 L345.60 191.16 L346.10 190.70 L346.60 190.26 L347.10 189.82 L347.60 189.39 L348.10 188.98 L348.60 188.57 L349.10 188.17 L349.60 187.79 L350.10 187.41 L350.60 187.05 L351.10 186.69 L351.60 186.35 L352.10 186.01 L352.60 185.69 L353.10 185.38 L353.60 185.07 L354.10 184.78 L354.60 184.50 L355.10 184.22 L355.60 183.96 L356.10 183.71 L356.60 183.47 L357.10 183.24 L357.60 183.02 L358.10 182.81 L358.60 182.61 L359.10 182.42 L359.60 182.24 L360.10 182.08 L360.60 181.92 L361.10 181.78 L361.60 181.64 L362.10 181.52 L362.60 181.41 L363.10 181.31 L363.60 181.22 L364.10 181.14 L364.60 181.07 L365.10 181.01 L365.60 180.97 L366.10 180.93 L366.60 180.91 L367.10 180.90 L367.60 180.90 L368.10 180.92 L368.60 180.94 L369.10 180.98 L369.60 181.03 L370.10 181.10 L370.60 181.17 L371.10 181.26 L371.60 181.36 L372.10 181.47 L372.60 181.59 L373.10 181.73 L373.60 181.87 L374.10 182.03 L374.60 182.20 L375.10 182.39 L375.60 182.58 L376.10 182.78 L376.60 183.00 L377.10 183.23 L377.60 183.47 L378.10 183.72 L378.60 183.98 L379.10 184.25 L379.60 184.54 L380.10 184.83 L380.60 185.14 L381.10 185.46 L381.60 185.78 L382.10 186.12 L382.60 186.47 L383.10 186.84 L383.60 187.21 L384.10 187.59 L384.60 187.99 L385.10 188.39 L385.60 188.81 L386.10 189.23 L386.60 189.67 L387.10 190.12 L387.60 190.58 L388.10 191.05 L388.60 191.53 L389.10 192.02 L389.60 192.52 L390.10 193.03 L390.60 193.55 L391.10 194.08 L391.60 194.63 L392.10 195.18 L392.60 195.75 L393.10 196.32 L393.60 196.91 L394.10 197.51 L394.60 198.11 L395.10 198.73 L395.60 199.36 L396.10 200.00 L396.60 200.65 L397.10 201.31 L397.60 201.98 L398.10 202.66 L398.60 203.35 L399.10 204.05 L399.60 204.76 L400.10 205.48 L400.60 206.22 L401.10 206.96 L401.60 207.71 L402.10 208.48 L402.60 209.25 L403.10 210.04 L403.60 210.83 L404.10 211.64 L404.60 212.45 L405.10 213.28 L405.60 214.12 L406.10 214.97 L406.60 215.82 L407.10 216.69 L407.60 217.57 L408.10 218.46 L408.60 219.36 L409.10 220.27 L409.60 221.19 L410.10 222.12 L410.60 223.06 L411.10 224.01 L411.60 224.97 L412.10 225.94 L412.60 226.92 L413.10 227.91 L413.60 228.91 L414.10 229.92 L414.60 230.94 L415.10 231.96 L415.60 233.00 L416.10 234.05 L416.60 235.11 L417.10 236.18 L417.60 237.25 L418.10 238.34 L418.60 239.43 L419.10 240.54 L419.60 241.65 L420.10 242.77 L420.60 243.90 L421.10 245.04 L421.60 246.19 L422.10 247.34 L422.60 248.50 L423.10 249.67 L423.60 250.85 L424.10 252.03 L424.60 253.23 L425.10 254.43 L425.60 255.63 L426.10 256.84 L426.60 258.06 L427.10 259.28 L427.60 260.51 L428.10 261.74 L428.60 262.98 L429.10 264.22 L429.60 265.47 L430.10 266.72 L430.60 267.97 L431.10 269.23 L431.60 270.48 L432.10 271.74 L432.60 273.00 L433.10 274.26 L433.60 275.52 L434.10 276.78 L434.60 278.04 L435.10 279.30 L435.60 280.55 L436.10 281.81 L436.60 283.05 L437.10 284.29 L437.60 285.53 L438.10 286.76 L438.60 287.98 L439.10 289.20 L439.60 290.41 L440.10 291.60 L440.60 292.79 L441.10 293.96 L441.60 295.12 L442.10 296.27 L442.60 297.40 L443.10 298.51 L443.60 299.61 L444.10 300.69 L444.60 301.75 L445.10 302.79 L445.60 303.81 L446.10 304.80 L446.60 305.77 L447.10 306.71 L447.60 307.63 L448.10 308.52 L448.60 309.37 L449.10 310.20 L449.60 311.00 L450.10 311.76 L450.60 312.48 L451.10 313.17 L451.60 313.83 L452.10 314.44 L452.60 315.01 L453.10 315.55 L453.60 316.04 L454.10 316.48 L454.60 316.89 L455.10 317.24 L455.60 317.56 L456.10 317.82 L456.60 318.03 L457.10 318.20 L457.60 318.32 L458.10 318.38 L458.60 318.40 L459.10 318.38 L459.60 318.33 L460.10 318.25 L460.60 318.14 L461.10 318.00 L461.60 317.83 L462.10 317.62 L462.60 317.38 L463.10 317.11 L463.60 316.80 L464.10 316.46 L464.60 316.08 L465.10 315.67 L465.60 315.22 L466.10 314.73 L466.60 314.21 L467.10 313.65 L467.60 313.05 L468.10 312.42 L468.60 311.75 L469.10 311.05 L469.60 310.31 L470.10 309.53 L470.60 308.72 L471.10 307.87 L471.60 306.98 L472.10 306.07 L472.60 305.11 L473.10 304.13 L473.60 303.11 L474.10 302.06 L474.60 300.97 L475.10 299.86 L475.60 298.71 L476.10 297.54 L476.60 296.34 L477.10 295.11 L477.60 293.85 L478.10 292.57 L478.60 291.26 L479.10 289.93 L479.60 288.57 L480.10 287.19 L480.60 285.79 L481.10 284.37 L481.60 282.94 L482.10 281.48 L482.60 280.01 L483.10 278.52 L483.60 277.01 L484.10 275.49 L484.60 273.96 L485.10 272.42 L485.60 270.86 L486.10 269.30 L486.60 267.72 L487.10 266.14 L487.60 264.55 L488.10 262.95 L488.60 261.35 L489.10 259.75 L489.60 258.14 L490.10 256.52 L490.60 254.91 L491.10 253.29 L491.60 251.67 L492.10 250.05 L492.60 248.44 L493.10 246.82 L493.60 245.21 L494.10 243.60 L494.60 242.00 L495.10 240.39 L495.60 238.80 L496.10 237.21 L496.60 235.62 L497.10 234.04 L497.60 232.47 L498.10 230.91 L498.60 229.35 L499.10 227.80 L499.60 226.26 L500.10 224.74 L500.60 223.22 L501.10 221.71 L501.60 220.21 L502.10 218.72 L502.60 217.25 L503.10 215.78 L503.60 214.33 L504.10 212.89 L504.60 211.46 L505.10 210.05 L505.60 208.64 L506.10 207.26 L506.60 205.88 L507.10 204.52 L507.60 203.17 L508.10 201.84 L508.60 200.52 L509.10 199.21 L509.60 197.92 L510.10 196.65 L510.60 195.39 L511.10 194.14 L511.60 192.91 L512.10 191.69 L512.60 190.49 L513.10 189.31 L513.60 188.14 L514.10 186.99 L514.60 185.85 L515.10 184.72 L515.60 183.62 L516.10 182.53 L516.60 181.45 L517.10 180.39 L517.60 179.34 L518.10 178.32 L518.60 177.30 L519.10 176.31 L519.60 175.32 L520.10 174.36 L520.60 173.41 L521.10 172.47 L521.60 171.56 L522.10 170.65 L522.60 169.76 L523.10 168.89 L523.60 168.04 L524.10 167.19 L524.60 166.37 L525.10 165.56 L525.60 164.76 L526.10 163.98 L526.60 163.22 L527.10 162.47 L527.60 161.73 L528.10 161.01 L528.60 160.31 L529.10 159.62 L529.60 158.94 L530.10 158.28 L530.60 157.63 L531.10 157.00 L531.60 156.38 L532.10 155.77 L532.60 155.18 L533.10 154.60 L533.60 154.04 L534.10 153.49 L534.60 152.95 L535.10 152.43 L535.60 151.92 L536.10 151.42 L536.60 150.94 L537.10 150.47 L537.60 150.01 L538.10 149.56 L538.60 149.13 L539.10 148.71 L539.60 148.30 L540.10 147.90 L540.60 147.52 L541.10 147.14 L541.60 146.78 L542.10 146.43 L542.60 146.09 L543.10 145.76 L543.60 145.45 L544.10 145.14 L544.60 144.85 L545.10 144.56 L545.60 144.28 L546.10 144.02 L546.60 143.77 L547.10 143.52 L547.60 143.28 L548.10 143.06 L548.60 142.84 L549.10 142.63 L549.60 142.44 L550.10 142.25 L550.60 142.07 L551.10 141.89 L551.60 141.73 L552.10 141.57 L552.60 141.43 L553.10 141.29 L553.60 141.15 L554.10 141.03 L554.60 140.91 L555.10 140.80 L555.60 140.69 L556.10 140.60 L556.60 140.51 L557.10 140.42 L557.60 140.35 L558.10 140.27 L558.60 140.21 L559.10 140.15 L559.60 140.09 L560.10 140.04 L560.60 140.00 L561.10 139.96 L561.60 139.92 L562.10 139.89 L562.60 139.87 L563.10 139.85 L563.60 139.83 L564.10 139.82 L564.60 139.81 L565.10 139.80 L565.60 139.80 L566.10 139.80 L566.60 139.82 L567.10 139.84 L567.60 139.88 L568.10 139.93 L568.60 139.99 L569.10 140.06 L569.60 140.14 L570.10 140.23 L570.60 140.34 L571.10 140.45 L571.60 140.57 L572.10 140.71 L572.60 140.85 L573.10 141.01 L573.60 141.17 L574.10 141.35 L574.60 141.53 L575.10 141.73 L575.60 141.93 L576.10 142.15 L576.60 142.37 L577.10 142.61 L577.60 142.85 L578.10 143.10 L578.60 143.37 L579.10 143.64 L579.60 143.92 L580.10 144.21 L580.60 144.51 L581.10 144.82 L581.60 145.14 L582.10 145.46 L582.60 145.80 L583.10 146.14 L583.60 146.50 L584.10 146.86 L584.60 147.23 L585.10 147.61 L585.60 147.99 L586.10 148.39 L586.60 148.79 L587.10 149.20 L587.60 149.62 L588.10 150.05 L588.60 150.48 L589.10 150.92 L589.60 151.37 L590.10 151.83 L590.60 152.29 L591.10 152.77 L591.60 153.25 L592.10 153.73 L592.30 153.93" stroke="#008000"/>
</g>
<rect x="98.6" y="21.1" width="493.7" height="363.6" fill="none" stroke="#0a0a0a" stroke-width="2"/>
<path d="M90.6 21.10 H98.6 M94.2 41.30 H98.6 M90.6 61.50 H98.6 M94.2 81.70 H98.6 M90.6 101.90 H98.6 M94.2 122.10 H98.6 M90.6 142.30 H98.6 M94.2 162.50 H98.6 M90.6 182.70 H98.6 M94.2 202.90 H98.6 M90.6 223.10 H98.6 M94.2 243.30 H98.6 M90.6 263.50 H98.6 M94.2 283.70 H98.6 M90.6 303.90 H98.6 M94.2 324.10 H98.6 M90.6 344.30 H98.6 M94.2 364.50 H98.6 M90.6 384.70 H98.6 M98.60 384.7 V392.7 M139.74 384.7 V389.1 M180.88 384.7 V392.7 M222.02 384.7 V389.1 M263.17 384.7 V392.7 M304.31 384.7 V389.1 M345.45 384.7 V392.7 M386.59 384.7 V389.1 M427.73 384.7 V392.7 M468.87 384.7 V389.1 M510.02 384.7 V392.7 M551.16 384.7 V389.1 M592.30 384.7 V392.7" stroke="#0a0a0a" stroke-width="2" fill="none"/>
<g font-family="Liberation Sans" font-size="19.5" fill="#000" stroke="#000" stroke-width="0.30">
<g transform="translate(55.35 26.60) skewY(0.05) scale(1 1.040)"><text x="0.00" y="0" font-size="21.00">-20</text></g>
<g transform="translate(55.35 67.00) skewY(0.05) scale(1 1.040)"><text x="0.00" y="0" font-size="21.00">-22</text></g>
<g transform="translate(55.35 107.40) skewY(0.05) scale(1 1.040)"><text x="0.00" y="0" font-size="21.00">-24</text></g>
<g transform="translate(55.35 147.80) skewY(0.05) scale(1 1.040)"><text x="0.00" y="0" font-size="21.00">-26</text></g>
<g transform="translate(55.35 188.20) skewY(0.05) scale(1 1.040)"><text x="0.00" y="0" font-size="21.00">-28</text></g>
<g transform="translate(55.35 228.60) skewY(0.05) scale(1 1.040)"><text x="0.00" y="0" font-size="21.00">-30</text></g>
<g transform="translate(55.35 269.00) skewY(0.05) scale(1 1.040)"><text x="0.00" y="0" font-size="21.00">-32</text></g>
<g transform="translate(55.35 309.40) skewY(0.05) scale(1 1.040)"><text x="0.00" y="0" font-size="21.00">-34</text></g>
<g transform="translate(55.35 349.80) skewY(0.05) scale(1 1.040)"><text x="0.00" y="0" font-size="21.00">-36</text></g>
<g transform="translate(55.35 390.20) skewY(0.05) scale(1 1.040)"><text x="0.00" y="0" font-size="21.00">-38</text></g>
<g transform="translate(75.24 413.20) skewY(0.05) scale(1 1.040)"><path transform="translate(0.00 0) scale(0.01025 -0.01025)" stroke-width="29.3" d="M515 0 L515 1237 L197 1010 L197 1180 L530 1409 L696 1409 L696 0 Z"/><text x="11.68" y="0" font-size="21.00">620</text></g>
<g transform="translate(157.52 413.20) skewY(0.05) scale(1 1.040)"><path transform="translate(0.00 0) scale(0.01025 -0.01025)" stroke-width="29.3" d="M515 0 L515 1237 L197 1010 L197 1180 L530 1409 L696 1409 L696 0 Z"/><text x="11.68" y="0" font-size="21.00">630</text></g>
<g transform="translate(239.81 413.20) skewY(0.05) scale(1 1.040)"><path transform="translate(0.00 0) scale(0.01025 -0.01025)" stroke-width="29.3" d="M515 0 L515 1237 L197 1010 L197 1180 L530 1409 L696 1409 L696 0 Z"/><text x="11.68" y="0" font-size="21.00">640</text></g>
<g transform="translate(322.09 413.20) skewY(0.05) scale(1 1.040)"><path transform="translate(0.00 0) scale(0.01025 -0.01025)" stroke-width="29.3" d="M515 0 L515 1237 L197 1010 L197 1180 L530 1409 L696 1409 L696 0 Z"/><text x="11.68" y="0" font-size="21.00">650</text></g>
<g transform="translate(404.37 413.20) skewY(0.05) scale(1 1.040)"><path transform="translate(0.00 0) scale(0.01025 -0.01025)" stroke-width="29.3" d="M515 0 L515 1237 L197 1010 L197 1180 L530 1409 L696 1409 L696 0 Z"/><text x="11.68" y="0" font-size="21.00">660</text></g>
<g transform="translate(486.66 413.20) skewY(0.05) scale(1 1.040)"><path transform="translate(0.00 0) scale(0.01025 -0.01025)" stroke-width="29.3" d="M515 0 L515 1237 L197 1010 L197 1180 L530 1409 L696 1409 L696 0 Z"/><text x="11.68" y="0" font-size="21.00">670</text></g>
<g transform="translate(568.94 413.20) skewY(0.05) scale(1 1.040)"><path transform="translate(0.00 0) scale(0.01025 -0.01025)" stroke-width="29.3" d="M515 0 L515 1237 L197 1010 L197 1180 L530 1409 L696 1409 L696 0 Z"/><text x="11.68" y="0" font-size="21.00">680</text></g>
<text transform="translate(271.60 447.30) skewY(0.05) scale(1 1.040)">Wavelength (nm)</text>
<text transform="translate(25.80 306.80) rotate(-90) skewY(0.05) scale(1 1.040)">Transmitted power (dB)</text>
<path d="M266.3 46.3 H310.8" stroke="#1a1a1a" stroke-width="2"/>
<text transform="translate(316.00 52.90) skewY(0.05) scale(1 1.040)">25 <tspan dy="1.5">°</tspan><tspan dy="-1.5">C</tspan></text>
<path d="M266.3 72.7 H310.8" stroke="#ff0000" stroke-width="2"/>
<text transform="translate(316.00 79.35) skewY(0.05) scale(1 1.040)">26 <tspan dy="1.5">°</tspan><tspan dy="-1.5">C</tspan></text>
<path d="M266.3 99.1 H310.8" stroke="#0000ff" stroke-width="2"/>
<text transform="translate(316.00 105.80) skewY(0.05) scale(1 1.040)">27 <tspan dy="1.5">°</tspan><tspan dy="-1.5">C</tspan></text>
<path d="M266.3 125.5 H310.8" stroke="#ff00ff" stroke-width="2"/>
<text transform="translate(316.00 132.25) skewY(0.05) scale(1 1.040)">28 <tspan dy="1.5">°</tspan><tspan dy="-1.5">C</tspan></text>
<path d="M266.3 151.9 H310.8" stroke="#008000" stroke-width="2"/>
<text transform="translate(316.00 158.70) skewY(0.05) scale(1 1.040)">29 <tspan dy="1.5">°</tspan><tspan dy="-1.5">C</tspan></text>
<text transform="translate(388.80 68.70) skewY(0.05) scale(1 1.040)">Red shift</text>
<text transform="translate(220.30 372.90) skewY(0.05) scale(1 1.040)">Selected resonance</text>
</g>
<text transform="translate(110.3 358.5) skewY(0.05)" font-family="Liberation Serif" font-size="31.8" fill="#000" stroke="#000" stroke-width="0.3">(a)</text>
<path d="M480.30 61.20 L554.80 61.20" stroke="#ff0000" stroke-width="3.8" stroke-linecap="round"/><path d="M570.60 61.20 L551.60 66.00 L554.80 61.20 L551.60 56.40 Z" fill="#ff0000" stroke="#ff0000" stroke-width="2" stroke-linejoin="round"/>
<path d="M217.40 364.60 L183.21 338.25" stroke="#000000" stroke-width="3.8" stroke-linecap="round"/><path d="M170.70 328.60 L188.68 336.40 L183.21 338.25 L182.82 344.00 Z" fill="#000000" stroke="#000000" stroke-width="2" stroke-linejoin="round"/>
<rect x="700.2" y="20.9" width="493.8" height="364.1" fill="none" stroke="#0a0a0a" stroke-width="2"/>
<path d="M692.2 20.90 H700.2 M695.8 54.00 H700.2 M692.2 87.10 H700.2 M695.8 120.20 H700.2 M692.2 153.30 H700.2 M695.8 186.40 H700.2 M692.2 219.50 H700.2 M695.8 252.60 H700.2 M692.2 285.70 H700.2 M695.8 318.80 H700.2 M692.2 351.90 H700.2 M695.8 385.00 H700.2 M700.20 385.0 V393.0 M729.25 385.0 V389.4 M758.29 385.0 V393.0 M787.34 385.0 V389.4 M816.39 385.0 V393.0 M845.44 385.0 V389.4 M874.48 385.0 V393.0 M903.53 385.0 V389.4 M932.58 385.0 V393.0 M961.62 385.0 V389.4 M990.67 385.0 V393.0 M1019.72 385.0 V389.4 M1048.76 385.0 V393.0 M1077.81 385.0 V389.4 M1106.86 385.0 V393.0 M1135.91 385.0 V389.4 M1164.95 385.0 V393.0 M1194.00 385.0 V389.4" stroke="#0a0a0a" stroke-width="2" fill="none"/>
<g font-family="Liberation Sans" font-size="19.5" fill="#000" stroke="#000" stroke-width="0.30">
<g transform="translate(675.42 357.40) skewY(0.05) scale(1 1.040)"><text x="0.00" y="0" font-size="21.00">0</text></g>
<g transform="translate(663.74 291.20) skewY(0.05) scale(1 1.040)"><path transform="translate(0.00 0) scale(0.01025 -0.01025)" stroke-width="29.3" d="M515 0 L515 1237 L197 1010 L197 1180 L530 1409 L696 1409 L696 0 Z"/><text x="11.68" y="0" font-size="21.00">0</text></g>
<g transform="translate(663.74 225.00) skewY(0.05) scale(1 1.040)"><text x="0.00" y="0" font-size="21.00">20</text></g>
<g transform="translate(663.74 158.80) skewY(0.05) scale(1 1.040)"><text x="0.00" y="0" font-size="21.00">30</text></g>
<g transform="translate(663.74 92.60) skewY(0.05) scale(1 1.040)"><text x="0.00" y="0" font-size="21.00">40</text></g>
<g transform="translate(663.74 26.40) skewY(0.05) scale(1 1.040)"><text x="0.00" y="0" font-size="21.00">50</text></g>
<g transform="translate(688.52 413.20) skewY(0.05) scale(1 1.040)"><text x="0.00" y="0" font-size="21.00">24</text></g>
<g transform="translate(746.61 413.20) skewY(0.05) scale(1 1.040)"><text x="0.00" y="0" font-size="21.00">26</text></g>
<g transform="translate(804.71 413.20) skewY(0.05) scale(1 1.040)"><text x="0.00" y="0" font-size="21.00">28</text></g>
<g transform="translate(862.80 413.20) skewY(0.05) scale(1 1.040)"><text x="0.00" y="0" font-size="21.00">30</text></g>
<g transform="translate(920.90 413.20) skewY(0.05) scale(1 1.040)"><text x="0.00" y="0" font-size="21.00">32</text></g>
<g transform="translate(978.99 413.20) skewY(0.05) scale(1 1.040)"><text x="0.00" y="0" font-size="21.00">34</text></g>
<g transform="translate(1037.09 413.20) skewY(0.05) scale(1 1.040)"><text x="0.00" y="0" font-size="21.00">36</text></g>
<g transform="translate(1095.18 413.20) skewY(0.05) scale(1 1.040)"><text x="0.00" y="0" font-size="21.00">38</text></g>
<g transform="translate(1153.27 413.20) skewY(0.05) scale(1 1.040)"><text x="0.00" y="0" font-size="21.00">40</text></g>
<text transform="translate(871.50 449.60) skewY(0.05) scale(1 1.040)">Temperature <tspan dx="1.3">(</tspan><tspan dx="0.3" dy="1.6">°</tspan><tspan dy="-1.6">C</tspan><tspan dx="0.7">)</tspan></text>
<text transform="translate(650.40 310.90) rotate(-90) skewY(0.05) scale(1 1.040)">Wavelength shift (nm)</text>
<text transform="translate(768.00 55.60) skewY(0.05) scale(1 1.040)">Experimental wavelength shift</text>
<text transform="translate(768.00 80.00) skewY(0.05) scale(1 1.040)">Linear fit</text>
<text transform="translate(918.60 270.30) skewY(0.05) scale(1 1.040)">Simulated wavelength shift</text>
<text transform="translate(918.40 294.30) skewY(0.05) scale(1 1.040)">Linear fit</text>
</g>
<rect x="737.3" y="46.1" width="7.8" height="7.8" fill="#000"/>
<path d="M719.1 72.9 H763.2" stroke="#000" stroke-width="2"/>
<path d="M891.4 258.2 L897.1 267.7 L885.7 267.7 Z" fill="#ff0000"/>
<path d="M868.8 288.3 H913.8" stroke="#ff0000" stroke-width="2"/>
<text transform="translate(724.97 109.90) skewY(0.05) scale(0.9849 1)" font-family="Liberation Serif" font-size="20.5" font-style="italic" fill="#000" stroke="#000" stroke-width="0.25">y</text>
<rect x="742.40" y="101.50" width="12.20" height="1.60" fill="#000"/><rect x="742.40" y="106.40" width="12.20" height="1.60" fill="#000"/>
<text transform="translate(763.06 109.90) skewY(0.05) scale(1.1085 1)" font-family="Liberation Serif" font-size="20.5" fill="#000" stroke="#000" stroke-width="0.25">2.77101</text>
<text transform="translate(838.39 109.90) skewY(0.05) scale(1.1382 1)" font-family="Liberation Serif" font-size="20.5" font-style="italic" fill="#000" stroke="#000" stroke-width="0.25">x</text>
<rect x="856.40" y="103.60" width="12.70" height="1.60" fill="#000"/>
<text transform="translate(876.55 109.90) skewY(0.05) scale(1.1110 1)" font-family="Liberation Serif" font-size="20.5" fill="#000" stroke="#000" stroke-width="0.25">66.21618</text>
<text transform="translate(722.80 143.20) skewY(0.05) scale(0.9133 1)" font-family="Liberation Serif" font-size="20.5" font-style="italic" fill="#000" stroke="#000" stroke-width="0.25">R</text>
<text transform="translate(736.00 134.80) skewY(0.05) scale(1.3913 1)" font-family="Liberation Serif" font-size="11.5" fill="#000" stroke="#000" stroke-width="0.10">2</text>
<rect x="753.20" y="134.80" width="12.00" height="1.60" fill="#000"/><rect x="753.20" y="139.70" width="12.00" height="1.60" fill="#000"/>
<text transform="translate(774.35 143.20) skewY(0.05) scale(1.1059 1)" font-family="Liberation Serif" font-size="20.5" fill="#000" stroke="#000" stroke-width="0.25">0.98912</text>
<text transform="translate(879.15 323.60) skewY(0.05) scale(0.9756 1)" font-family="Liberation Serif" font-size="20.5" font-style="italic" fill="#000" stroke="#000" stroke-width="0.25">y</text>
<rect x="896.80" y="315.20" width="12.10" height="1.60" fill="#000"/><rect x="896.80" y="320.10" width="12.10" height="1.60" fill="#000"/>
<text transform="translate(918.28 323.60) skewY(0.05) scale(1.0905 1)" font-family="Liberation Serif" font-size="20.5" fill="#000" stroke="#000" stroke-width="0.25">2.93469</text>
<text transform="translate(993.68 323.60) skewY(0.05) scale(1.0840 1)" font-family="Liberation Serif" font-size="20.5" font-style="italic" fill="#000" stroke="#000" stroke-width="0.25">x</text>
<rect x="1011.00" y="317.10" width="12.60" height="1.60" fill="#000"/>
<text transform="translate(1030.88 323.60) skewY(0.05) scale(1.1057 1)" font-family="Liberation Serif" font-size="20.5" fill="#000" stroke="#000" stroke-width="0.25">71.70154</text>
<text transform="translate(873.60 353.10) skewY(0.05) scale(0.9299 1)" font-family="Liberation Serif" font-size="20.5" font-style="italic" fill="#000" stroke="#000" stroke-width="0.25">R</text>
<text transform="translate(886.44 344.60) skewY(0.05) scale(1.5000 1)" font-family="Liberation Serif" font-size="11.5" fill="#000" stroke="#000" stroke-width="0.10">2</text>
<rect x="904.60" y="344.70" width="11.70" height="1.60" fill="#000"/><rect x="904.60" y="349.60" width="11.70" height="1.60" fill="#000"/>
<text transform="translate(925.55 353.10) skewY(0.05) scale(1.1103 1)" font-family="Liberation Serif" font-size="20.5" fill="#000" stroke="#000" stroke-width="0.25">0.99591</text>
<text transform="translate(1143.7 358.5) skewY(0.05)" font-family="Liberation Serif" font-size="31.8" fill="#000" stroke="#000" stroke-width="0.3">(b)</text>
<rect x="725.25" y="347.90" width="8" height="8" fill="#000"/>
<rect x="754.29" y="318.57" width="8" height="8" fill="#000"/>
<rect x="783.34" y="292.62" width="8" height="8" fill="#000"/>
<rect x="812.39" y="269.19" width="8" height="8" fill="#000"/>
<rect x="841.44" y="253.23" width="8" height="8" fill="#000"/>
<rect x="870.48" y="226.89" width="8" height="8" fill="#000"/>
<rect x="899.53" y="207.82" width="8" height="8" fill="#000"/>
<rect x="928.58" y="191.01" width="8" height="8" fill="#000"/>
<rect x="957.62" y="171.81" width="8" height="8" fill="#000"/>
<rect x="986.67" y="152.61" width="8" height="8" fill="#000"/>
<rect x="1015.72" y="139.37" width="8" height="8" fill="#000"/>
<rect x="1044.76" y="125.47" width="8" height="8" fill="#000"/>
<rect x="1073.81" y="109.58" width="8" height="8" fill="#000"/>
<rect x="1102.86" y="91.71" width="8" height="8" fill="#000"/>
<rect x="1131.91" y="77.80" width="8" height="8" fill="#000"/>
<rect x="1160.95" y="65.23" width="8" height="8" fill="#000"/>
<path d="M729.25 331.65 L1164.95 56.49" stroke="#000" stroke-width="2"/>
<path d="M729.25 345.35 L734.70 354.94 L723.80 354.94 Z" fill="#ff0000"/>
<path d="M758.29 320.72 L763.74 330.32 L752.84 330.32 Z" fill="#ff0000"/>
<path d="M787.34 297.81 L792.79 307.41 L781.89 307.41 Z" fill="#ff0000"/>
<path d="M816.39 275.50 L821.84 285.10 L810.94 285.10 Z" fill="#ff0000"/>
<path d="M845.44 254.32 L850.89 263.92 L839.99 263.92 Z" fill="#ff0000"/>
<path d="M874.48 232.14 L879.93 241.74 L869.03 241.74 Z" fill="#ff0000"/>
<path d="M903.53 211.95 L908.98 221.55 L898.08 221.55 Z" fill="#ff0000"/>
<path d="M932.58 192.09 L938.03 201.69 L927.13 201.69 Z" fill="#ff0000"/>
<path d="M961.62 173.22 L967.07 182.82 L956.17 182.82 Z" fill="#ff0000"/>
<path d="M990.67 154.62 L996.12 164.22 L985.22 164.22 Z" fill="#ff0000"/>
<path d="M1019.72 136.29 L1025.17 145.89 L1014.27 145.89 Z" fill="#ff0000"/>
<path d="M1048.76 118.61 L1054.21 128.21 L1043.31 128.21 Z" fill="#ff0000"/>
<path d="M1077.81 102.06 L1083.26 111.66 L1072.36 111.66 Z" fill="#ff0000"/>
<path d="M1106.86 84.85 L1112.31 94.45 L1101.41 94.45 Z" fill="#ff0000"/>
<path d="M1135.91 68.96 L1141.36 78.56 L1130.46 78.56 Z" fill="#ff0000"/>
<path d="M1164.95 53.07 L1170.40 62.67 L1159.50 62.67 Z" fill="#ff0000"/>
<path d="M729.25 340.87 L1164.95 49.46" stroke="#ff0000" stroke-width="2"/>
</g>
</svg>
</body></html>
